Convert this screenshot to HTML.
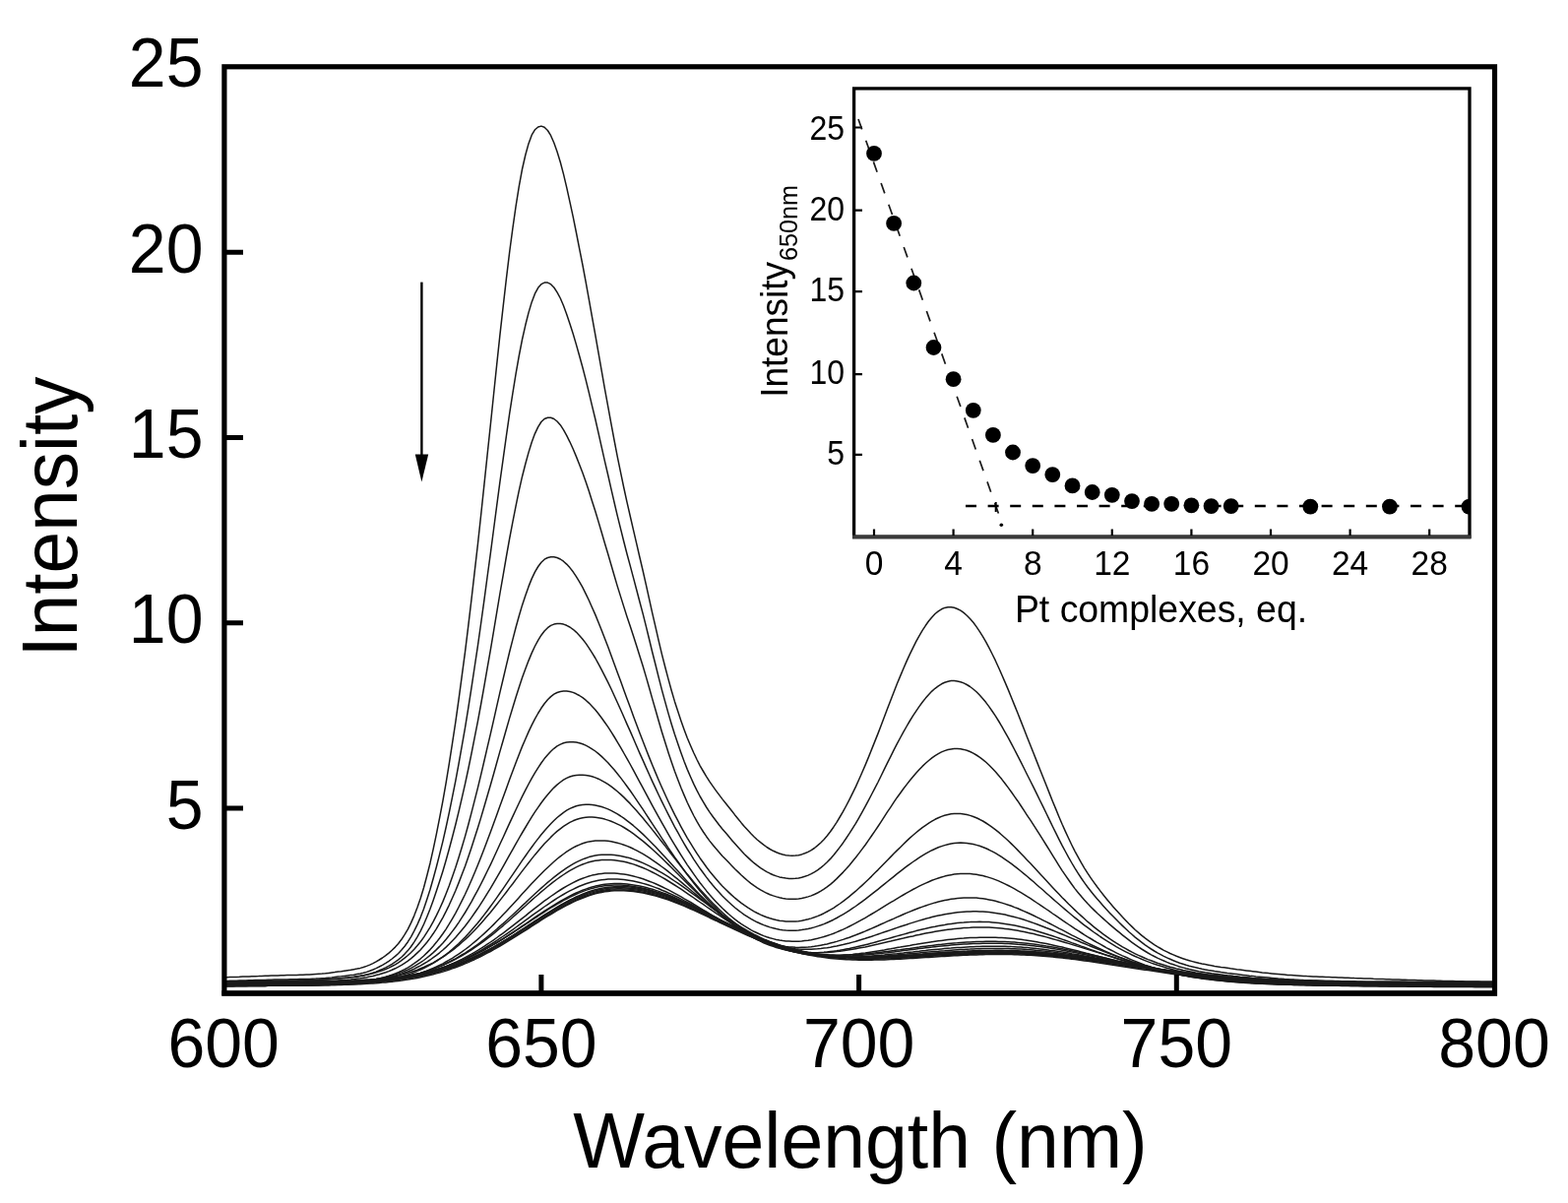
<!DOCTYPE html>
<html><head><meta charset="utf-8"><title>Emission titration</title>
<style>
html,body{margin:0;padding:0;background:#fff;}
body{width:1593px;height:1222px;overflow:hidden;}
svg{display:block;}
text{font-family:"Liberation Sans", Arial, sans-serif;fill:#000;}
</style></head><body>
<svg width="1593" height="1222" viewBox="0 0 1593 1222">
<rect x="0" y="0" width="1593" height="1222" fill="#fff"/>

<defs><clipPath id="mclip"><rect x="229" y="70" width="1288" height="937"/></clipPath>
<clipPath id="iclip"><rect x="869" y="91" width="623" height="453"/></clipPath></defs>
<g clip-path="url(#mclip)" fill="none" stroke="#1a1a1a" stroke-width="1.5" stroke-linejoin="round">
<polyline points="227.2,992.8 230.4,992.7 233.7,992.6 236.9,992.5 240.1,992.4 243.3,992.3 246.6,992.1 249.8,992.0 253.0,991.9 256.2,991.8 259.5,991.7 262.7,991.6 265.9,991.4 269.2,991.3 272.4,991.2 275.6,991.1 278.8,991.0 282.1,990.9 285.3,990.8 288.5,990.7 291.7,990.6 295.0,990.5 298.2,990.5 301.4,990.4 304.6,990.3 307.9,990.2 311.1,990.0 314.3,989.9 317.6,989.7 320.8,989.5 324.0,989.3 327.2,989.1 330.5,988.8 333.7,988.4 336.9,988.0 340.1,987.6 343.4,987.1 346.6,986.7 349.8,986.2 353.1,985.7 356.3,985.3 359.5,984.7 362.7,984.1 366.0,983.4 369.2,982.5 372.4,981.4 375.6,980.1 378.9,978.6 382.1,976.9 385.3,975.0 388.5,973.0 391.8,970.6 395.0,968.1 398.2,965.3 401.5,962.1 404.7,958.5 407.9,954.3 411.1,949.4 414.4,943.8 417.6,937.4 420.8,930.1 424.0,921.8 427.3,912.3 430.5,901.7 433.7,889.8 437.0,876.7 440.2,862.4 443.4,847.2 446.6,830.9 449.9,813.7 453.1,795.3 456.3,775.9 459.5,755.3 462.8,733.7 466.0,710.9 469.2,687.1 472.5,662.3 475.7,636.4 478.9,609.5 482.1,581.7 485.4,553.0 488.6,523.5 491.8,493.4 495.0,462.8 498.3,431.9 501.5,401.0 504.7,370.3 507.9,340.3 511.2,311.1 514.4,283.1 517.6,256.6 520.9,231.9 524.1,209.4 527.3,189.4 530.5,172.0 533.8,157.5 537.0,145.9 540.2,137.2 543.4,131.8 546.7,129.0 549.9,128.1 553.1,129.3 556.4,132.5 559.6,137.7 562.8,145.0 566.0,154.0 569.3,164.7 572.5,176.9 575.7,190.4 578.9,204.9 582.2,220.2 585.4,236.0 588.6,252.3 591.9,269.0 595.1,286.2 598.3,303.9 601.5,321.9 604.8,340.1 608.0,358.4 611.2,376.7 614.4,394.9 617.7,412.8 620.9,430.3 624.1,447.5 627.3,464.1 630.6,480.1 633.8,495.5 637.0,510.2 640.3,524.5 643.5,538.4 646.7,552.2 649.9,566.0 653.2,580.0 656.4,594.2 659.6,608.7 662.8,623.1 666.1,637.4 669.3,651.4 672.5,664.9 675.8,677.7 679.0,689.9 682.2,701.5 685.4,712.4 688.7,722.6 691.9,732.2 695.1,741.2 698.3,749.7 701.6,757.5 704.8,764.8 708.0,771.5 711.2,777.8 714.5,783.5 717.7,788.9 720.9,793.9 724.2,798.6 727.4,803.1 730.6,807.4 733.8,811.6 737.1,815.7 740.3,819.7 743.5,823.8 746.7,827.9 750.0,831.9 753.2,835.9 756.4,839.7 759.7,843.3 762.9,846.8 766.1,850.0 769.3,853.0 772.6,855.7 775.8,858.2 779.0,860.5 782.2,862.5 785.5,864.3 788.7,865.8 791.9,867.0 795.2,868.0 798.4,868.7 801.6,869.1 804.8,869.3 808.1,869.1 811.3,868.7 814.5,867.9 817.7,866.8 821.0,865.4 824.2,863.6 827.4,861.5 830.6,858.9 833.9,856.0 837.1,852.7 840.3,849.0 843.6,844.8 846.8,840.2 850.0,835.3 853.2,830.0 856.5,824.4 859.7,818.5 862.9,812.3 866.1,805.9 869.4,799.1 872.6,792.0 875.8,784.7 879.1,777.1 882.3,769.4 885.5,761.4 888.7,753.4 892.0,745.1 895.2,736.8 898.4,728.3 901.6,719.7 904.9,711.2 908.1,702.9 911.3,694.8 914.6,686.9 917.8,679.3 921.0,671.9 924.2,664.9 927.5,658.1 930.7,651.7 933.9,645.8 937.1,640.3 940.4,635.3 943.6,630.8 946.8,626.9 950.0,623.5 953.3,620.8 956.5,618.8 959.7,617.4 963.0,616.7 966.2,616.7 969.4,617.3 972.6,618.5 975.9,620.1 979.1,622.4 982.3,625.2 985.5,628.5 988.8,632.3 992.0,636.6 995.2,641.4 998.5,646.6 1001.7,652.2 1004.9,658.2 1008.1,664.5 1011.4,671.2 1014.6,678.2 1017.8,685.5 1021.0,692.9 1024.3,700.6 1027.5,708.5 1030.7,716.4 1034.0,724.5 1037.2,732.6 1040.4,740.8 1043.6,749.0 1046.9,757.2 1050.1,765.3 1053.3,773.4 1056.5,781.5 1059.8,789.7 1063.0,797.8 1066.2,805.9 1069.4,814.0 1072.7,821.9 1075.9,829.7 1079.1,837.3 1082.4,844.6 1085.6,851.5 1088.8,858.2 1092.0,864.6 1095.3,870.6 1098.5,876.4 1101.7,881.8 1104.9,886.9 1108.2,891.8 1111.4,896.4 1114.6,900.8 1117.9,905.1 1121.1,909.2 1124.3,913.2 1127.5,917.1 1130.8,920.9 1134.0,924.5 1137.2,928.1 1140.4,931.6 1143.7,935.0 1146.9,938.3 1150.1,941.4 1153.3,944.5 1156.6,947.4 1159.8,950.1 1163.0,952.7 1166.3,955.1 1169.5,957.4 1172.7,959.6 1175.9,961.6 1179.2,963.5 1182.4,965.3 1185.6,966.9 1188.8,968.5 1192.1,969.9 1195.3,971.3 1198.5,972.5 1201.8,973.7 1205.0,974.8 1208.2,975.7 1211.4,976.6 1214.7,977.5 1217.9,978.3 1221.1,979.0 1224.3,979.6 1227.6,980.2 1230.8,980.8 1234.0,981.4 1237.3,981.9 1240.5,982.4 1243.7,982.8 1246.9,983.3 1250.2,983.8 1253.4,984.2 1256.6,984.7 1259.8,985.1 1263.1,985.5 1266.3,985.9 1269.5,986.3 1272.7,986.7 1276.0,987.1 1279.2,987.5 1282.4,987.9 1285.7,988.2 1288.9,988.6 1292.1,988.9 1295.3,989.2 1298.6,989.5 1301.8,989.8 1305.0,990.1 1308.2,990.4 1311.5,990.6 1314.7,990.8 1317.9,991.0 1321.2,991.2 1324.4,991.4 1327.6,991.6 1330.8,991.7 1334.1,991.9 1337.3,992.0 1340.5,992.2 1343.7,992.3 1347.0,992.5 1350.2,992.6 1353.4,992.7 1356.7,992.8 1359.9,993.0 1363.1,993.1 1366.3,993.2 1369.6,993.3 1372.8,993.4 1376.0,993.6 1379.2,993.7 1382.5,993.8 1385.7,993.9 1388.9,994.0 1392.1,994.1 1395.4,994.3 1398.6,994.4 1401.8,994.5 1405.1,994.6 1408.3,994.7 1411.5,994.8 1414.7,994.9 1418.0,995.0 1421.2,995.1 1424.4,995.2 1427.6,995.3 1430.9,995.4 1434.1,995.5 1437.3,995.6 1440.6,995.7 1443.8,995.8 1447.0,995.9 1450.2,996.0 1453.5,996.0 1456.7,996.1 1459.9,996.2 1463.1,996.3 1466.4,996.4 1469.6,996.4 1472.8,996.5 1476.0,996.6 1479.3,996.7 1482.5,996.7 1485.7,996.8 1489.0,996.9 1492.2,996.9 1495.4,997.0 1498.6,997.0 1501.9,997.1 1505.1,997.2 1508.3,997.2 1511.5,997.3 1514.8,997.3 1518.0,997.4"/>
<polyline points="227.2,996.5 230.4,996.4 233.7,996.3 236.9,996.3 240.1,996.2 243.3,996.1 246.6,996.0 249.8,995.9 253.0,995.8 256.2,995.7 259.5,995.6 262.7,995.5 265.9,995.4 269.2,995.4 272.4,995.3 275.6,995.2 278.8,995.1 282.1,995.1 285.3,995.0 288.5,994.9 291.7,994.9 295.0,994.8 298.2,994.7 301.4,994.7 304.6,994.6 307.9,994.5 311.1,994.5 314.3,994.4 317.6,994.2 320.8,994.1 324.0,993.9 327.2,993.7 330.5,993.5 333.7,993.2 336.9,992.9 340.1,992.5 343.4,992.1 346.6,991.8 349.8,991.4 353.1,991.0 356.3,990.6 359.5,990.2 362.7,989.6 366.0,989.0 369.2,988.3 372.4,987.4 375.6,986.3 378.9,985.0 382.1,983.6 385.3,982.0 388.5,980.3 391.8,978.4 395.0,976.3 398.2,974.0 401.5,971.4 404.7,968.5 407.9,965.1 411.1,961.2 414.4,956.7 417.6,951.6 420.8,945.7 424.0,939.1 427.3,931.6 430.5,923.2 433.7,913.8 437.0,903.5 440.2,892.3 443.4,880.5 446.6,867.9 449.9,854.6 453.1,840.5 456.3,825.6 459.5,809.9 462.8,793.4 466.0,776.1 469.2,758.1 472.5,739.3 475.7,719.6 478.9,699.2 482.1,678.0 485.4,656.1 488.6,633.5 491.8,610.3 495.0,586.5 498.3,562.4 501.5,538.0 504.7,513.7 507.9,489.6 511.2,465.9 514.4,442.8 517.6,420.6 520.9,399.4 524.1,379.7 527.3,361.5 530.5,345.0 533.8,330.3 537.0,317.6 540.2,306.9 543.4,298.4 546.7,292.3 549.9,288.7 553.1,287.1 556.4,287.1 559.6,288.7 562.8,292.0 566.0,296.8 569.3,303.0 572.5,310.5 575.7,319.2 578.9,328.8 582.2,339.1 585.4,349.9 588.6,361.3 591.9,373.2 595.1,385.6 598.3,398.6 601.5,412.1 604.8,425.8 608.0,439.9 611.2,454.1 614.4,468.3 617.7,482.5 620.9,496.6 624.1,510.5 627.3,524.1 630.6,537.4 633.8,550.2 637.0,562.7 640.3,574.9 643.5,586.9 646.7,599.0 649.9,611.2 653.2,623.6 656.4,636.4 659.6,649.5 662.8,662.7 666.1,675.7 669.3,688.6 672.5,701.1 675.8,713.1 679.0,724.6 682.2,735.5 685.4,745.8 688.7,755.6 691.9,764.8 695.1,773.5 698.3,781.6 701.6,789.2 704.8,796.4 708.0,802.9 711.2,809.0 714.5,814.7 717.7,820.0 720.9,824.9 724.2,829.5 727.4,833.8 730.6,838.0 733.8,842.0 737.1,845.8 740.3,849.6 743.5,853.4 746.7,857.1 750.0,860.8 753.2,864.3 756.4,867.7 759.7,870.9 762.9,873.9 766.1,876.7 769.3,879.2 772.6,881.6 775.8,883.7 779.0,885.6 782.2,887.2 785.5,888.7 788.7,889.9 791.9,890.9 795.2,891.6 798.4,892.1 801.6,892.4 804.8,892.5 808.1,892.3 811.3,891.9 814.5,891.2 817.7,890.3 821.0,889.1 824.2,887.6 827.4,885.8 830.6,883.8 833.9,881.4 837.1,878.7 840.3,875.7 843.6,872.4 846.8,868.7 850.0,864.8 853.2,860.6 856.5,856.2 859.7,851.5 862.9,846.7 866.1,841.6 869.4,836.3 872.6,830.8 875.8,825.1 879.1,819.2 882.3,813.2 885.5,807.0 888.7,800.8 892.0,794.5 895.2,788.0 898.4,781.4 901.6,774.8 904.9,768.3 908.1,761.8 911.3,755.6 914.6,749.5 917.8,743.6 921.0,738.0 924.2,732.5 927.5,727.2 930.7,722.3 933.9,717.6 937.1,713.2 940.4,709.1 943.6,705.4 946.8,702.1 950.0,699.3 953.3,696.8 956.5,694.8 959.7,693.3 963.0,692.2 966.2,691.6 969.4,691.5 972.6,691.9 975.9,692.7 979.1,693.9 982.3,695.5 985.5,697.5 988.8,700.0 992.0,702.8 995.2,706.1 998.5,709.7 1001.7,713.6 1004.9,717.9 1008.1,722.5 1011.4,727.4 1014.6,732.5 1017.8,737.9 1021.0,743.6 1024.3,749.4 1027.5,755.4 1030.7,761.5 1034.0,767.8 1037.2,774.1 1040.4,780.5 1043.6,787.0 1046.9,793.5 1050.1,799.9 1053.3,806.4 1056.5,813.0 1059.8,819.6 1063.0,826.3 1066.2,832.9 1069.4,839.5 1072.7,846.1 1075.9,852.6 1079.1,858.9 1082.4,865.0 1085.6,870.9 1088.8,876.5 1092.0,881.9 1095.3,887.1 1098.5,892.0 1101.7,896.6 1104.9,901.0 1108.2,905.2 1111.4,909.2 1114.6,913.1 1117.9,916.8 1121.1,920.4 1124.3,924.0 1127.5,927.4 1130.8,930.8 1134.0,934.1 1137.2,937.3 1140.4,940.4 1143.7,943.5 1146.9,946.5 1150.1,949.3 1153.3,952.1 1156.6,954.7 1159.8,957.2 1163.0,959.6 1166.3,961.9 1169.5,964.0 1172.7,966.0 1175.9,967.9 1179.2,969.6 1182.4,971.3 1185.6,972.9 1188.8,974.3 1192.1,975.7 1195.3,977.0 1198.5,978.2 1201.8,979.2 1205.0,980.3 1208.2,981.2 1211.4,982.0 1214.7,982.8 1217.9,983.6 1221.1,984.3 1224.3,984.9 1227.6,985.5 1230.8,986.0 1234.0,986.6 1237.3,987.0 1240.5,987.5 1243.7,987.9 1246.9,988.4 1250.2,988.8 1253.4,989.2 1256.6,989.6 1259.8,990.0 1263.1,990.4 1266.3,990.8 1269.5,991.2 1272.7,991.5 1276.0,991.9 1279.2,992.2 1282.4,992.5 1285.7,992.8 1288.9,993.1 1292.1,993.4 1295.3,993.7 1298.6,994.0 1301.8,994.2 1305.0,994.5 1308.2,994.7 1311.5,994.9 1314.7,995.1 1317.9,995.2 1321.2,995.4 1324.4,995.6 1327.6,995.7 1330.8,995.8 1334.1,996.0 1337.3,996.1 1340.5,996.2 1343.7,996.3 1347.0,996.4 1350.2,996.5 1353.4,996.6 1356.7,996.7 1359.9,996.8 1363.1,996.9 1366.3,997.0 1369.6,997.1 1372.8,997.2 1376.0,997.3 1379.2,997.4 1382.5,997.5 1385.7,997.6 1388.9,997.7 1392.1,997.8 1395.4,997.9 1398.6,998.0 1401.8,998.1 1405.1,998.2 1408.3,998.2 1411.5,998.3 1414.7,998.4 1418.0,998.5 1421.2,998.6 1424.4,998.7 1427.6,998.8 1430.9,998.8 1434.1,998.9 1437.3,999.0 1440.6,999.1 1443.8,999.1 1447.0,999.2 1450.2,999.3 1453.5,999.4 1456.7,999.4 1459.9,999.5 1463.1,999.6 1466.4,999.6 1469.6,999.7 1472.8,999.8 1476.0,999.8 1479.3,999.9 1482.5,999.9 1485.7,1000.0 1489.0,1000.0 1492.2,1000.1 1495.4,1000.1 1498.6,1000.2 1501.9,1000.2 1505.1,1000.3 1508.3,1000.3 1511.5,1000.3 1514.8,1000.4 1518.0,1000.4"/>
<polyline points="227.2,997.2 230.4,997.1 233.7,997.0 236.9,997.0 240.1,996.9 243.3,996.8 246.6,996.7 249.8,996.7 253.0,996.6 256.2,996.5 259.5,996.5 262.7,996.4 265.9,996.4 269.2,996.3 272.4,996.2 275.6,996.2 278.8,996.1 282.1,996.1 285.3,996.0 288.5,996.0 291.7,996.0 295.0,995.9 298.2,995.9 301.4,995.9 304.6,995.8 307.9,995.8 311.1,995.7 314.3,995.7 317.6,995.6 320.8,995.5 324.0,995.4 327.2,995.2 330.5,995.0 333.7,994.8 336.9,994.6 340.1,994.3 343.4,994.0 346.6,993.7 349.8,993.4 353.1,993.1 356.3,992.7 359.5,992.4 362.7,992.0 366.0,991.5 369.2,990.9 372.4,990.1 375.6,989.3 378.9,988.2 382.1,987.1 385.3,985.8 388.5,984.4 391.8,982.8 395.0,981.1 398.2,979.3 401.5,977.2 404.7,974.9 407.9,972.2 411.1,969.1 414.4,965.6 417.6,961.5 420.8,956.8 424.0,951.6 427.3,945.6 430.5,939.0 433.7,931.5 437.0,923.3 440.2,914.5 443.4,905.1 446.6,895.3 449.9,884.9 453.1,874.0 456.3,862.5 459.5,850.5 462.8,837.8 466.0,824.6 469.2,810.8 472.5,796.4 475.7,781.5 478.9,765.9 482.1,749.7 485.4,732.9 488.6,715.5 491.8,697.6 495.0,679.1 498.3,660.3 501.5,641.3 504.7,622.1 507.9,603.0 511.2,584.1 514.4,565.5 517.6,547.5 520.9,530.2 524.1,513.8 527.3,498.4 530.5,484.2 533.8,471.2 537.0,459.6 540.2,449.3 543.4,440.6 546.7,433.6 549.9,428.5 553.1,425.5 556.4,424.2 559.6,424.2 562.8,425.5 566.0,428.0 569.3,431.7 572.5,436.6 575.7,442.3 578.9,448.8 582.2,456.0 585.4,463.6 588.6,471.7 591.9,480.2 595.1,489.3 598.3,498.8 601.5,508.9 604.8,519.2 608.0,529.9 611.2,540.8 614.4,551.8 617.7,562.8 620.9,573.8 624.1,584.8 627.3,595.6 630.6,606.1 633.8,616.4 637.0,626.4 640.3,636.3 643.5,646.1 646.7,656.1 649.9,666.2 653.2,676.7 656.4,687.6 659.6,698.8 662.8,710.1 666.1,721.5 669.3,732.7 672.5,743.7 675.8,754.3 679.0,764.4 682.2,774.0 685.4,783.2 688.7,791.9 691.9,800.2 695.1,807.9 698.3,815.2 701.6,822.1 704.8,828.5 708.0,834.4 711.2,839.9 714.5,845.0 717.7,849.7 720.9,854.1 724.2,858.2 727.4,862.1 730.6,865.8 733.8,869.4 737.1,872.8 740.3,876.1 743.5,879.4 746.7,882.7 750.0,885.9 753.2,889.0 756.4,891.9 759.7,894.7 762.9,897.3 766.1,899.7 769.3,901.9 772.6,903.9 775.8,905.7 779.0,907.3 782.2,908.7 785.5,909.9 788.7,910.9 791.9,911.8 795.2,912.4 798.4,912.9 801.6,913.2 804.8,913.3 808.1,913.2 811.3,912.9 814.5,912.5 817.7,911.8 821.0,910.9 824.2,909.9 827.4,908.5 830.6,907.0 833.9,905.2 837.1,903.2 840.3,900.9 843.6,898.4 846.8,895.6 850.0,892.6 853.2,889.4 856.5,886.1 859.7,882.6 862.9,878.9 866.1,875.0 869.4,871.0 872.6,866.9 875.8,862.6 879.1,858.2 882.3,853.6 885.5,849.0 888.7,844.3 892.0,839.5 895.2,834.7 898.4,829.7 901.6,824.7 904.9,819.8 908.1,814.9 911.3,810.2 914.6,805.7 917.8,801.3 921.0,797.1 924.2,793.0 927.5,789.1 930.7,785.3 933.9,781.8 937.1,778.4 940.4,775.3 943.6,772.5 946.8,769.9 950.0,767.6 953.3,765.6 956.5,763.9 959.7,762.6 963.0,761.5 966.2,760.9 969.4,760.5 972.6,760.5 975.9,760.8 979.1,761.4 982.3,762.3 985.5,763.5 988.8,765.1 992.0,767.0 995.2,769.1 998.5,771.6 1001.7,774.3 1004.9,777.3 1008.1,780.5 1011.4,784.0 1014.6,787.7 1017.8,791.6 1021.0,795.8 1024.3,800.1 1027.5,804.5 1030.7,809.1 1034.0,813.7 1037.2,818.5 1040.4,823.4 1043.6,828.3 1046.9,833.2 1050.1,838.1 1053.3,843.1 1056.5,848.2 1059.8,853.3 1063.0,858.5 1066.2,863.7 1069.4,868.9 1072.7,874.1 1075.9,879.3 1079.1,884.3 1082.4,889.2 1085.6,893.8 1088.8,898.3 1092.0,902.6 1095.3,906.7 1098.5,910.6 1101.7,914.3 1104.9,917.8 1108.2,921.2 1111.4,924.4 1114.6,927.5 1117.9,930.5 1121.1,933.4 1124.3,936.3 1127.5,939.1 1130.8,941.9 1134.0,944.6 1137.2,947.2 1140.4,949.8 1143.7,952.4 1146.9,954.9 1150.1,957.3 1153.3,959.6 1156.6,961.9 1159.8,964.0 1163.0,966.0 1166.3,968.0 1169.5,969.8 1172.7,971.5 1175.9,973.1 1179.2,974.6 1182.4,976.0 1185.6,977.4 1188.8,978.7 1192.1,979.8 1195.3,980.9 1198.5,982.0 1201.8,982.9 1205.0,983.8 1208.2,984.6 1211.4,985.3 1214.7,986.0 1217.9,986.7 1221.1,987.2 1224.3,987.8 1227.6,988.3 1230.8,988.8 1234.0,989.2 1237.3,989.6 1240.5,990.0 1243.7,990.4 1246.9,990.8 1250.2,991.1 1253.4,991.5 1256.6,991.8 1259.8,992.2 1263.1,992.5 1266.3,992.8 1269.5,993.1 1272.7,993.5 1276.0,993.8 1279.2,994.0 1282.4,994.3 1285.7,994.6 1288.9,994.8 1292.1,995.1 1295.3,995.3 1298.6,995.5 1301.8,995.7 1305.0,995.9 1308.2,996.1 1311.5,996.3 1314.7,996.4 1317.9,996.6 1321.2,996.7 1324.4,996.8 1327.6,996.9 1330.8,997.0 1334.1,997.2 1337.3,997.2 1340.5,997.3 1343.7,997.4 1347.0,997.5 1350.2,997.6 1353.4,997.7 1356.7,997.7 1359.9,997.8 1363.1,997.9 1366.3,998.0 1369.6,998.0 1372.8,998.1 1376.0,998.2 1379.2,998.3 1382.5,998.3 1385.7,998.4 1388.9,998.5 1392.1,998.6 1395.4,998.6 1398.6,998.7 1401.8,998.8 1405.1,998.8 1408.3,998.9 1411.5,999.0 1414.7,999.0 1418.0,999.1 1421.2,999.2 1424.4,999.2 1427.6,999.3 1430.9,999.4 1434.1,999.4 1437.3,999.5 1440.6,999.5 1443.8,999.6 1447.0,999.7 1450.2,999.7 1453.5,999.8 1456.7,999.8 1459.9,999.9 1463.1,999.9 1466.4,1000.0 1469.6,1000.0 1472.8,1000.1 1476.0,1000.1 1479.3,1000.2 1482.5,1000.2 1485.7,1000.3 1489.0,1000.3 1492.2,1000.3 1495.4,1000.4 1498.6,1000.4 1501.9,1000.4 1505.1,1000.5 1508.3,1000.5 1511.5,1000.5 1514.8,1000.6 1518.0,1000.6"/>
<polyline points="227.2,998.2 230.4,998.2 233.7,998.1 236.9,998.0 240.1,998.0 243.3,997.9 246.6,997.8 249.8,997.8 253.0,997.7 256.2,997.6 259.5,997.5 262.7,997.5 265.9,997.4 269.2,997.3 272.4,997.2 275.6,997.1 278.8,997.0 282.1,996.9 285.3,996.8 288.5,996.7 291.7,996.6 295.0,996.5 298.2,996.4 301.4,996.3 304.6,996.1 307.9,996.0 311.1,995.9 314.3,995.7 317.6,995.6 320.8,995.4 324.0,995.3 327.2,995.1 330.5,994.9 333.7,994.7 336.9,994.5 340.1,994.2 343.4,994.0 346.6,993.7 349.8,993.4 353.1,993.1 356.3,992.7 359.5,992.3 362.7,991.8 366.0,991.3 369.2,990.8 372.4,990.2 375.6,989.5 378.9,988.7 382.1,987.8 385.3,986.8 388.5,985.7 391.8,984.5 395.0,983.1 398.2,981.5 401.5,979.8 404.7,977.8 407.9,975.7 411.1,973.2 414.4,970.5 417.6,967.5 420.8,964.2 424.0,960.5 427.3,956.5 430.5,952.1 433.7,947.2 437.0,941.9 440.2,936.2 443.4,929.9 446.6,923.2 449.9,915.9 453.1,908.0 456.3,899.7 459.5,890.8 462.8,881.3 466.0,871.3 469.2,860.7 472.5,849.6 475.7,838.0 478.9,825.9 482.1,813.4 485.4,800.4 488.6,787.1 491.8,773.5 495.0,759.7 498.3,745.7 501.5,731.6 504.7,717.4 507.9,703.4 511.2,689.5 514.4,675.8 517.6,662.5 520.9,649.6 524.1,637.3 527.3,625.7 530.5,614.9 533.8,604.9 537.0,595.9 540.2,587.9 543.4,581.1 546.7,575.5 549.9,571.2 553.1,568.2 556.4,566.5 559.6,565.8 562.8,565.8 566.0,566.5 569.3,568.0 572.5,570.2 575.7,573.1 578.9,576.6 582.2,580.8 585.4,585.6 588.6,590.9 591.9,596.7 595.1,603.1 598.3,609.8 601.5,617.0 604.8,624.4 608.0,632.2 611.2,640.3 614.4,648.6 617.7,657.1 620.9,665.7 624.1,674.4 627.3,683.2 630.6,692.1 633.8,700.9 637.0,709.8 640.3,718.6 643.5,727.4 646.7,736.0 649.9,744.6 653.2,753.0 656.4,761.3 659.6,769.4 662.8,777.3 666.1,785.1 669.3,792.7 672.5,800.0 675.8,807.2 679.0,814.2 682.2,820.9 685.4,827.4 688.7,833.7 691.9,839.8 695.1,845.6 698.3,851.3 701.6,856.7 704.8,861.9 708.0,866.9 711.2,871.7 714.5,876.3 717.7,880.8 720.9,885.0 724.2,889.0 727.4,892.8 730.6,896.5 733.8,900.0 737.1,903.3 740.3,906.4 743.5,909.4 746.7,912.2 750.0,914.9 753.2,917.4 756.4,919.7 759.7,921.9 762.9,923.9 766.1,925.8 769.3,927.5 772.6,929.1 775.8,930.5 779.0,931.7 782.2,932.8 785.5,933.7 788.7,934.5 791.9,935.2 795.2,935.6 798.4,936.0 801.6,936.1 804.8,936.1 808.1,936.0 811.3,935.7 814.5,935.2 817.7,934.6 821.0,933.8 824.2,932.9 827.4,931.8 830.6,930.6 833.9,929.2 837.1,927.7 840.3,926.0 843.6,924.2 846.8,922.3 850.0,920.2 853.2,918.0 856.5,915.6 859.7,913.2 862.9,910.6 866.1,907.9 869.4,905.2 872.6,902.3 875.8,899.4 879.1,896.3 882.3,893.2 885.5,890.1 888.7,886.8 892.0,883.6 895.2,880.3 898.4,877.0 901.6,873.7 904.9,870.4 908.1,867.1 911.3,863.9 914.6,860.7 917.8,857.5 921.0,854.4 924.2,851.4 927.5,848.5 930.7,845.8 933.9,843.1 937.1,840.6 940.4,838.3 943.6,836.1 946.8,834.1 950.0,832.3 953.3,830.8 956.5,829.4 959.7,828.3 963.0,827.5 966.2,826.8 969.4,826.5 972.6,826.4 975.9,826.5 979.1,826.9 982.3,827.5 985.5,828.4 988.8,829.5 992.0,830.8 995.2,832.3 998.5,834.0 1001.7,836.0 1004.9,838.1 1008.1,840.4 1011.4,842.8 1014.6,845.4 1017.8,848.2 1021.0,851.0 1024.3,854.0 1027.5,857.1 1030.7,860.3 1034.0,863.6 1037.2,866.9 1040.4,870.3 1043.6,873.7 1046.9,877.1 1050.1,880.6 1053.3,884.1 1056.5,887.6 1059.8,891.1 1063.0,894.6 1066.2,898.1 1069.4,901.5 1072.7,904.9 1075.9,908.3 1079.1,911.7 1082.4,914.9 1085.6,918.2 1088.8,921.3 1092.0,924.4 1095.3,927.5 1098.5,930.4 1101.7,933.3 1104.9,936.2 1108.2,938.9 1111.4,941.6 1114.6,944.2 1117.9,946.7 1121.1,949.1 1124.3,951.4 1127.5,953.7 1130.8,955.8 1134.0,957.9 1137.2,959.9 1140.4,961.9 1143.7,963.7 1146.9,965.5 1150.1,967.2 1153.3,968.8 1156.6,970.4 1159.8,971.8 1163.0,973.2 1166.3,974.6 1169.5,975.8 1172.7,977.0 1175.9,978.2 1179.2,979.3 1182.4,980.3 1185.6,981.3 1188.8,982.2 1192.1,983.0 1195.3,983.9 1198.5,984.6 1201.8,985.4 1205.0,986.1 1208.2,986.7 1211.4,987.3 1214.7,987.9 1217.9,988.4 1221.1,988.9 1224.3,989.4 1227.6,989.9 1230.8,990.3 1234.0,990.7 1237.3,991.1 1240.5,991.4 1243.7,991.8 1246.9,992.1 1250.2,992.4 1253.4,992.7 1256.6,992.9 1259.8,993.2 1263.1,993.4 1266.3,993.6 1269.5,993.9 1272.7,994.1 1276.0,994.3 1279.2,994.4 1282.4,994.6 1285.7,994.8 1288.9,994.9 1292.1,995.1 1295.3,995.2 1298.6,995.4 1301.8,995.5 1305.0,995.6 1308.2,995.7 1311.5,995.8 1314.7,996.0 1317.9,996.1 1321.2,996.2 1324.4,996.3 1327.6,996.4 1330.8,996.5 1334.1,996.5 1337.3,996.6 1340.5,996.7 1343.7,996.8 1347.0,996.9 1350.2,997.0 1353.4,997.0 1356.7,997.1 1359.9,997.2 1363.1,997.2 1366.3,997.3 1369.6,997.4 1372.8,997.4 1376.0,997.5 1379.2,997.6 1382.5,997.6 1385.7,997.7 1388.9,997.7 1392.1,997.8 1395.4,997.9 1398.6,997.9 1401.8,998.0 1405.1,998.0 1408.3,998.1 1411.5,998.1 1414.7,998.2 1418.0,998.2 1421.2,998.3 1424.4,998.3 1427.6,998.4 1430.9,998.4 1434.1,998.4 1437.3,998.5 1440.6,998.5 1443.8,998.6 1447.0,998.6 1450.2,998.6 1453.5,998.7 1456.7,998.7 1459.9,998.8 1463.1,998.8 1466.4,998.8 1469.6,998.9 1472.8,998.9 1476.0,998.9 1479.3,999.0 1482.5,999.0 1485.7,999.0 1489.0,999.1 1492.2,999.1 1495.4,999.1 1498.6,999.2 1501.9,999.2 1505.1,999.2 1508.3,999.3 1511.5,999.3 1514.8,999.3 1518.0,999.3"/>
<polyline points="227.2,999.5 230.4,999.5 233.7,999.4 236.9,999.3 240.1,999.3 243.3,999.2 246.6,999.2 249.8,999.1 253.0,999.1 256.2,999.0 259.5,998.9 262.7,998.9 265.9,998.8 269.2,998.7 272.4,998.7 275.6,998.6 278.8,998.5 282.1,998.4 285.3,998.4 288.5,998.3 291.7,998.2 295.0,998.1 298.2,998.0 301.4,997.9 304.6,997.8 307.9,997.7 311.1,997.6 314.3,997.5 317.6,997.3 320.8,997.2 324.0,997.1 327.2,996.9 330.5,996.8 333.7,996.6 336.9,996.4 340.1,996.2 343.4,996.0 346.6,995.7 349.8,995.5 353.1,995.2 356.3,994.9 359.5,994.5 362.7,994.1 366.0,993.7 369.2,993.2 372.4,992.7 375.6,992.1 378.9,991.4 382.1,990.6 385.3,989.8 388.5,988.8 391.8,987.8 395.0,986.6 398.2,985.3 401.5,983.8 404.7,982.2 407.9,980.4 411.1,978.3 414.4,976.1 417.6,973.6 420.8,970.9 424.0,967.9 427.3,964.7 430.5,961.1 433.7,957.2 437.0,952.9 440.2,948.3 443.4,943.3 446.6,937.9 449.9,932.1 453.1,925.9 456.3,919.3 459.5,912.3 462.8,904.8 466.0,896.9 469.2,888.6 472.5,879.9 475.7,870.7 478.9,861.2 482.1,851.3 485.4,841.1 488.6,830.6 491.8,819.8 495.0,808.8 498.3,797.5 501.5,786.2 504.7,774.8 507.9,763.4 511.2,752.0 514.4,740.7 517.6,729.6 520.9,718.8 524.1,708.3 527.3,698.2 530.5,688.6 533.8,679.6 537.0,671.1 540.2,663.4 543.4,656.5 546.7,650.4 549.9,645.2 553.1,641.0 556.4,637.7 559.6,635.4 562.8,634.1 566.0,633.6 569.3,633.6 572.5,634.1 575.7,635.3 578.9,637.0 582.2,639.3 585.4,642.1 588.6,645.4 591.9,649.2 595.1,653.4 598.3,658.1 601.5,663.1 604.8,668.5 608.0,674.3 611.2,680.3 614.4,686.6 617.7,693.1 620.9,699.8 624.1,706.7 627.3,713.8 630.6,721.0 633.8,728.2 637.0,735.6 640.3,742.9 643.5,750.3 646.7,757.7 649.9,765.1 653.2,772.4 656.4,779.6 659.6,786.8 662.8,793.9 666.1,800.9 669.3,807.7 672.5,814.4 675.8,821.0 679.0,827.4 682.2,833.7 685.4,839.8 688.7,845.7 691.9,851.5 695.1,857.1 698.3,862.5 701.6,867.7 704.8,872.8 708.0,877.6 711.2,882.3 714.5,886.8 717.7,891.1 720.9,895.2 724.2,899.2 727.4,902.9 730.6,906.5 733.8,910.0 737.1,913.2 740.3,916.3 743.5,919.2 746.7,922.0 750.0,924.6 753.2,927.0 756.4,929.3 759.7,931.4 762.9,933.3 766.1,935.1 769.3,936.8 772.6,938.3 775.8,939.6 779.0,940.8 782.2,941.9 785.5,942.8 788.7,943.6 791.9,944.2 795.2,944.7 798.4,945.0 801.6,945.2 804.8,945.3 808.1,945.2 811.3,945.0 814.5,944.6 817.7,944.1 821.0,943.5 824.2,942.8 827.4,941.9 830.6,940.9 833.9,939.8 837.1,938.6 840.3,937.2 843.6,935.7 846.8,934.2 850.0,932.5 853.2,930.7 856.5,928.8 859.7,926.9 862.9,924.8 866.1,922.7 869.4,920.5 872.6,918.2 875.8,915.8 879.1,913.4 882.3,910.9 885.5,908.4 888.7,905.9 892.0,903.3 895.2,900.7 898.4,898.1 901.6,895.5 904.9,892.9 908.1,890.3 911.3,887.7 914.6,885.2 917.8,882.7 921.0,880.2 924.2,877.8 927.5,875.5 930.7,873.3 933.9,871.1 937.1,869.1 940.4,867.2 943.6,865.4 946.8,863.7 950.0,862.2 953.3,860.8 956.5,859.6 959.7,858.6 963.0,857.7 966.2,857.0 969.4,856.5 972.6,856.2 975.9,856.1 979.1,856.2 982.3,856.5 985.5,856.9 988.8,857.5 992.0,858.4 995.2,859.3 998.5,860.5 1001.7,861.8 1004.9,863.3 1008.1,864.9 1011.4,866.7 1014.6,868.6 1017.8,870.6 1021.0,872.8 1024.3,875.1 1027.5,877.4 1030.7,879.8 1034.0,882.4 1037.2,885.0 1040.4,887.6 1043.6,890.3 1046.9,893.1 1050.1,895.8 1053.3,898.7 1056.5,901.5 1059.8,904.3 1063.0,907.2 1066.2,910.0 1069.4,912.9 1072.7,915.7 1075.9,918.5 1079.1,921.3 1082.4,924.1 1085.6,926.8 1088.8,929.5 1092.0,932.1 1095.3,934.7 1098.5,937.3 1101.7,939.8 1104.9,942.2 1108.2,944.6 1111.4,947.0 1114.6,949.2 1117.9,951.5 1121.1,953.6 1124.3,955.7 1127.5,957.7 1130.8,959.7 1134.0,961.6 1137.2,963.4 1140.4,965.1 1143.7,966.8 1146.9,968.4 1150.1,970.0 1153.3,971.5 1156.6,972.9 1159.8,974.3 1163.0,975.6 1166.3,976.9 1169.5,978.1 1172.7,979.2 1175.9,980.3 1179.2,981.3 1182.4,982.3 1185.6,983.3 1188.8,984.1 1192.1,985.0 1195.3,985.8 1198.5,986.5 1201.8,987.2 1205.0,987.9 1208.2,988.5 1211.4,989.1 1214.7,989.7 1217.9,990.3 1221.1,990.8 1224.3,991.2 1227.6,991.7 1230.8,992.1 1234.0,992.5 1237.3,992.9 1240.5,993.2 1243.7,993.5 1246.9,993.9 1250.2,994.2 1253.4,994.4 1256.6,994.7 1259.8,994.9 1263.1,995.2 1266.3,995.4 1269.5,995.6 1272.7,995.8 1276.0,996.0 1279.2,996.1 1282.4,996.3 1285.7,996.5 1288.9,996.6 1292.1,996.8 1295.3,996.9 1298.6,997.0 1301.8,997.1 1305.0,997.3 1308.2,997.4 1311.5,997.5 1314.7,997.6 1317.9,997.7 1321.2,997.8 1324.4,997.8 1327.6,997.9 1330.8,998.0 1334.1,998.1 1337.3,998.2 1340.5,998.2 1343.7,998.3 1347.0,998.4 1350.2,998.5 1353.4,998.5 1356.7,998.6 1359.9,998.6 1363.1,998.7 1366.3,998.8 1369.6,998.8 1372.8,998.9 1376.0,998.9 1379.2,999.0 1382.5,999.0 1385.7,999.1 1388.9,999.1 1392.1,999.2 1395.4,999.2 1398.6,999.3 1401.8,999.3 1405.1,999.4 1408.3,999.4 1411.5,999.4 1414.7,999.5 1418.0,999.5 1421.2,999.6 1424.4,999.6 1427.6,999.6 1430.9,999.7 1434.1,999.7 1437.3,999.7 1440.6,999.8 1443.8,999.8 1447.0,999.8 1450.2,999.9 1453.5,999.9 1456.7,999.9 1459.9,1000.0 1463.1,1000.0 1466.4,1000.0 1469.6,1000.1 1472.8,1000.1 1476.0,1000.1 1479.3,1000.1 1482.5,1000.2 1485.7,1000.2 1489.0,1000.2 1492.2,1000.3 1495.4,1000.3 1498.6,1000.3 1501.9,1000.3 1505.1,1000.4 1508.3,1000.4 1511.5,1000.4 1514.8,1000.4 1518.0,1000.4"/>
<polyline points="227.2,1002.0 230.4,1001.9 233.7,1001.9 236.9,1001.9 240.1,1001.8 243.3,1001.8 246.6,1001.7 249.8,1001.7 253.0,1001.6 256.2,1001.6 259.5,1001.5 262.7,1001.5 265.9,1001.4 269.2,1001.4 272.4,1001.3 275.6,1001.3 278.8,1001.2 282.1,1001.2 285.3,1001.1 288.5,1001.0 291.7,1001.0 295.0,1000.9 298.2,1000.8 301.4,1000.7 304.6,1000.7 307.9,1000.6 311.1,1000.5 314.3,1000.4 317.6,1000.3 320.8,1000.2 324.0,1000.1 327.2,999.9 330.5,999.8 333.7,999.7 336.9,999.5 340.1,999.3 343.4,999.2 346.6,999.0 349.8,998.7 353.1,998.5 356.3,998.2 359.5,997.9 362.7,997.6 366.0,997.2 369.2,996.8 372.4,996.4 375.6,995.9 378.9,995.3 382.1,994.7 385.3,994.0 388.5,993.2 391.8,992.3 395.0,991.3 398.2,990.2 401.5,989.0 404.7,987.7 407.9,986.2 411.1,984.6 414.4,982.8 417.6,980.9 420.8,978.7 424.0,976.3 427.3,973.8 430.5,971.0 433.7,967.9 437.0,964.6 440.2,961.0 443.4,957.1 446.6,953.0 449.9,948.5 453.1,943.8 456.3,938.7 459.5,933.3 462.8,927.6 466.0,921.5 469.2,915.2 472.5,908.5 475.7,901.5 478.9,894.2 482.1,886.7 485.4,878.8 488.6,870.8 491.8,862.5 495.0,854.0 498.3,845.3 501.5,836.6 504.7,827.7 507.9,818.7 511.2,809.8 514.4,800.9 517.6,792.0 520.9,783.3 524.1,774.8 527.3,766.4 530.5,758.4 533.8,750.7 537.0,743.4 540.2,736.6 543.4,730.3 546.7,724.5 549.9,719.3 553.1,714.7 556.4,710.8 559.6,707.6 562.8,705.2 566.0,703.5 569.3,702.5 572.5,702.1 575.7,702.1 578.9,702.5 582.2,703.4 585.4,704.8 588.6,706.5 591.9,708.7 595.1,711.2 598.3,714.1 601.5,717.4 604.8,721.0 608.0,725.0 611.2,729.2 614.4,733.7 617.7,738.4 620.9,743.4 624.1,748.5 627.3,753.8 630.6,759.3 633.8,765.0 637.0,770.7 640.3,776.5 643.5,782.4 646.7,788.4 649.9,794.4 653.2,800.4 656.4,806.4 659.6,812.4 662.8,818.4 666.1,824.3 669.3,830.1 672.5,835.9 675.8,841.6 679.0,847.3 682.2,852.8 685.4,858.2 688.7,863.5 691.9,868.6 695.1,873.7 698.3,878.6 701.6,883.3 704.8,887.9 708.0,892.4 711.2,896.7 714.5,900.9 717.7,904.9 720.9,908.7 724.2,912.4 727.4,915.9 730.6,919.3 733.8,922.5 737.1,925.6 740.3,928.5 743.5,931.2 746.7,933.8 750.0,936.3 753.2,938.6 756.4,940.7 759.7,942.7 762.9,944.6 766.1,946.3 769.3,947.8 772.6,949.3 775.8,950.6 779.0,951.7 782.2,952.7 785.5,953.6 788.7,954.4 791.9,955.0 795.2,955.5 798.4,955.9 801.6,956.1 804.8,956.3 808.1,956.3 811.3,956.2 814.5,956.0 817.7,955.6 821.0,955.2 824.2,954.7 827.4,954.0 830.6,953.3 833.9,952.4 837.1,951.5 840.3,950.5 843.6,949.4 846.8,948.2 850.0,946.9 853.2,945.5 856.5,944.1 859.7,942.6 862.9,941.0 866.1,939.4 869.4,937.7 872.6,935.9 875.8,934.1 879.1,932.3 882.3,930.4 885.5,928.5 888.7,926.6 892.0,924.7 895.2,922.7 898.4,920.7 901.6,918.7 904.9,916.7 908.1,914.8 911.3,912.8 914.6,910.9 917.8,909.0 921.0,907.1 924.2,905.3 927.5,903.5 930.7,901.8 933.9,900.2 937.1,898.6 940.4,897.1 943.6,895.7 946.8,894.3 950.0,893.1 953.3,892.0 956.5,891.0 959.7,890.1 963.0,889.3 966.2,888.7 969.4,888.1 972.6,887.8 975.9,887.5 979.1,887.4 982.3,887.4 985.5,887.6 988.8,887.9 992.0,888.3 995.2,888.9 998.5,889.6 1001.7,890.4 1004.9,891.4 1008.1,892.4 1011.4,893.6 1014.6,894.9 1017.8,896.4 1021.0,897.9 1024.3,899.5 1027.5,901.2 1030.7,902.9 1034.0,904.8 1037.2,906.7 1040.4,908.6 1043.6,910.7 1046.9,912.7 1050.1,914.8 1053.3,917.0 1056.5,919.1 1059.8,921.3 1063.0,923.5 1066.2,925.7 1069.4,928.0 1072.7,930.2 1075.9,932.4 1079.1,934.6 1082.4,936.8 1085.6,939.0 1088.8,941.2 1092.0,943.3 1095.3,945.4 1098.5,947.5 1101.7,949.6 1104.9,951.6 1108.2,953.5 1111.4,955.5 1114.6,957.4 1117.9,959.2 1121.1,961.0 1124.3,962.8 1127.5,964.5 1130.8,966.2 1134.0,967.8 1137.2,969.4 1140.4,970.9 1143.7,972.3 1146.9,973.8 1150.1,975.1 1153.3,976.4 1156.6,977.7 1159.8,978.9 1163.0,980.1 1166.3,981.2 1169.5,982.3 1172.7,983.3 1175.9,984.3 1179.2,985.2 1182.4,986.1 1185.6,987.0 1188.8,987.8 1192.1,988.6 1195.3,989.3 1198.5,990.0 1201.8,990.7 1205.0,991.3 1208.2,991.9 1211.4,992.4 1214.7,993.0 1217.9,993.5 1221.1,994.0 1224.3,994.4 1227.6,994.8 1230.8,995.2 1234.0,995.6 1237.3,996.0 1240.5,996.3 1243.7,996.6 1246.9,996.9 1250.2,997.2 1253.4,997.5 1256.6,997.7 1259.8,997.9 1263.1,998.2 1266.3,998.4 1269.5,998.6 1272.7,998.8 1276.0,998.9 1279.2,999.1 1282.4,999.2 1285.7,999.4 1288.9,999.5 1292.1,999.7 1295.3,999.8 1298.6,999.9 1301.8,1000.0 1305.0,1000.1 1308.2,1000.2 1311.5,1000.3 1314.7,1000.4 1317.9,1000.5 1321.2,1000.6 1324.4,1000.6 1327.6,1000.7 1330.8,1000.8 1334.1,1000.9 1337.3,1000.9 1340.5,1001.0 1343.7,1001.1 1347.0,1001.1 1350.2,1001.2 1353.4,1001.2 1356.7,1001.3 1359.9,1001.3 1363.1,1001.4 1366.3,1001.4 1369.6,1001.5 1372.8,1001.5 1376.0,1001.6 1379.2,1001.6 1382.5,1001.6 1385.7,1001.7 1388.9,1001.7 1392.1,1001.8 1395.4,1001.8 1398.6,1001.8 1401.8,1001.9 1405.1,1001.9 1408.3,1001.9 1411.5,1002.0 1414.7,1002.0 1418.0,1002.0 1421.2,1002.1 1424.4,1002.1 1427.6,1002.1 1430.9,1002.2 1434.1,1002.2 1437.3,1002.2 1440.6,1002.2 1443.8,1002.3 1447.0,1002.3 1450.2,1002.3 1453.5,1002.3 1456.7,1002.4 1459.9,1002.4 1463.1,1002.4 1466.4,1002.4 1469.6,1002.5 1472.8,1002.5 1476.0,1002.5 1479.3,1002.5 1482.5,1002.5 1485.7,1002.6 1489.0,1002.6 1492.2,1002.6 1495.4,1002.6 1498.6,1002.7 1501.9,1002.7 1505.1,1002.7 1508.3,1002.7 1511.5,1002.7 1514.8,1002.7 1518.0,1002.8"/>
<polyline points="227.2,1000.6 230.4,1000.6 233.7,1000.6 236.9,1000.5 240.1,1000.5 243.3,1000.5 246.6,1000.4 249.8,1000.4 253.0,1000.4 256.2,1000.3 259.5,1000.3 262.7,1000.3 265.9,1000.2 269.2,1000.2 272.4,1000.1 275.6,1000.1 278.8,1000.0 282.1,1000.0 285.3,999.9 288.5,999.9 291.7,999.8 295.0,999.8 298.2,999.7 301.4,999.7 304.6,999.6 307.9,999.5 311.1,999.5 314.3,999.4 317.6,999.3 320.8,999.2 324.0,999.1 327.2,999.0 330.5,998.9 333.7,998.8 336.9,998.7 340.1,998.5 343.4,998.4 346.6,998.2 349.8,998.0 353.1,997.8 356.3,997.6 359.5,997.3 362.7,997.0 366.0,996.7 369.2,996.4 372.4,996.0 375.6,995.6 378.9,995.1 382.1,994.6 385.3,994.0 388.5,993.3 391.8,992.6 395.0,991.8 398.2,990.9 401.5,989.9 404.7,988.8 407.9,987.6 411.1,986.3 414.4,984.9 417.6,983.3 420.8,981.6 424.0,979.7 427.3,977.7 430.5,975.5 433.7,973.0 437.0,970.4 440.2,967.6 443.4,964.6 446.6,961.4 449.9,957.9 453.1,954.2 456.3,950.3 459.5,946.1 462.8,941.7 466.0,937.1 469.2,932.2 472.5,927.0 475.7,921.7 478.9,916.1 482.1,910.2 485.4,904.2 488.6,898.0 491.8,891.6 495.0,885.0 498.3,878.3 501.5,871.5 504.7,864.5 507.9,857.5 511.2,850.5 514.4,843.4 517.6,836.4 520.9,829.4 524.1,822.5 527.3,815.7 530.5,809.1 533.8,802.7 537.0,796.5 540.2,790.6 543.4,785.1 546.7,779.8 549.9,775.0 553.1,770.6 556.4,766.7 559.6,763.2 562.8,760.3 566.0,757.9 569.3,756.1 572.5,754.8 575.7,754.0 578.9,753.7 582.2,753.7 585.4,754.0 588.6,754.7 591.9,755.8 595.1,757.1 598.3,758.8 601.5,760.8 604.8,763.0 608.0,765.6 611.2,768.4 614.4,771.5 617.7,774.8 620.9,778.4 624.1,782.1 627.3,786.0 630.6,790.1 633.8,794.4 637.0,798.8 640.3,803.3 643.5,807.9 646.7,812.6 649.9,817.4 653.2,822.2 656.4,827.1 659.6,832.0 662.8,836.9 666.1,841.8 669.3,846.7 672.5,851.6 675.8,856.5 679.0,861.3 682.2,866.0 685.4,870.7 688.7,875.3 691.9,879.8 695.1,884.3 698.3,888.6 701.6,892.9 704.8,897.0 708.0,901.0 711.2,905.0 714.5,908.7 717.7,912.4 720.9,916.0 724.2,919.4 727.4,922.6 730.6,925.8 733.8,928.8 737.1,931.7 740.3,934.4 743.5,937.0 746.7,939.5 750.0,941.8 753.2,944.0 756.4,946.1 759.7,948.0 762.9,949.8 766.1,951.5 769.3,953.0 772.6,954.5 775.8,955.8 779.0,956.9 782.2,958.0 785.5,958.9 788.7,959.7 791.9,960.4 795.2,961.0 798.4,961.5 801.6,961.9 804.8,962.1 808.1,962.3 811.3,962.4 814.5,962.3 817.7,962.2 821.0,962.0 824.2,961.7 827.4,961.3 830.6,960.8 833.9,960.2 837.1,959.6 840.3,958.9 843.6,958.1 846.8,957.3 850.0,956.4 853.2,955.4 856.5,954.4 859.7,953.3 862.9,952.2 866.1,951.0 869.4,949.8 872.6,948.5 875.8,947.2 879.1,945.9 882.3,944.5 885.5,943.1 888.7,941.7 892.0,940.3 895.2,938.8 898.4,937.4 901.6,935.9 904.9,934.5 908.1,933.1 911.3,931.6 914.6,930.2 917.8,928.8 921.0,927.4 924.2,926.1 927.5,924.8 930.7,923.5 933.9,922.3 937.1,921.1 940.4,920.0 943.6,918.9 946.8,917.9 950.0,916.9 953.3,916.1 956.5,915.3 959.7,914.5 963.0,913.9 966.2,913.3 969.4,912.9 972.6,912.5 975.9,912.2 979.1,912.0 982.3,911.9 985.5,911.9 988.8,911.9 992.0,912.1 995.2,912.4 998.5,912.8 1001.7,913.3 1004.9,913.9 1008.1,914.5 1011.4,915.3 1014.6,916.2 1017.8,917.1 1021.0,918.1 1024.3,919.2 1027.5,920.3 1030.7,921.6 1034.0,922.8 1037.2,924.2 1040.4,925.6 1043.6,927.0 1046.9,928.5 1050.1,930.0 1053.3,931.6 1056.5,933.2 1059.8,934.8 1063.0,936.4 1066.2,938.0 1069.4,939.7 1072.7,941.4 1075.9,943.1 1079.1,944.7 1082.4,946.4 1085.6,948.1 1088.8,949.8 1092.0,951.4 1095.3,953.1 1098.5,954.7 1101.7,956.3 1104.9,957.9 1108.2,959.5 1111.4,961.0 1114.6,962.5 1117.9,964.0 1121.1,965.5 1124.3,966.9 1127.5,968.3 1130.8,969.6 1134.0,971.0 1137.2,972.3 1140.4,973.5 1143.7,974.7 1146.9,975.9 1150.1,977.1 1153.3,978.2 1156.6,979.2 1159.8,980.3 1163.0,981.3 1166.3,982.2 1169.5,983.1 1172.7,984.0 1175.9,984.9 1179.2,985.7 1182.4,986.5 1185.6,987.2 1188.8,987.9 1192.1,988.6 1195.3,989.3 1198.5,989.9 1201.8,990.5 1205.0,991.0 1208.2,991.6 1211.4,992.1 1214.7,992.6 1217.9,993.0 1221.1,993.4 1224.3,993.9 1227.6,994.2 1230.8,994.6 1234.0,995.0 1237.3,995.3 1240.5,995.6 1243.7,995.9 1246.9,996.2 1250.2,996.4 1253.4,996.7 1256.6,996.9 1259.8,997.1 1263.1,997.3 1266.3,997.5 1269.5,997.7 1272.7,997.9 1276.0,998.0 1279.2,998.2 1282.4,998.3 1285.7,998.5 1288.9,998.6 1292.1,998.7 1295.3,998.8 1298.6,998.9 1301.8,999.0 1305.0,999.1 1308.2,999.2 1311.5,999.3 1314.7,999.4 1317.9,999.4 1321.2,999.5 1324.4,999.6 1327.6,999.7 1330.8,999.7 1334.1,999.8 1337.3,999.8 1340.5,999.9 1343.7,999.9 1347.0,1000.0 1350.2,1000.0 1353.4,1000.1 1356.7,1000.1 1359.9,1000.2 1363.1,1000.2 1366.3,1000.2 1369.6,1000.3 1372.8,1000.3 1376.0,1000.4 1379.2,1000.4 1382.5,1000.4 1385.7,1000.4 1388.9,1000.5 1392.1,1000.5 1395.4,1000.5 1398.6,1000.6 1401.8,1000.6 1405.1,1000.6 1408.3,1000.6 1411.5,1000.7 1414.7,1000.7 1418.0,1000.7 1421.2,1000.7 1424.4,1000.8 1427.6,1000.8 1430.9,1000.8 1434.1,1000.8 1437.3,1000.9 1440.6,1000.9 1443.8,1000.9 1447.0,1000.9 1450.2,1000.9 1453.5,1001.0 1456.7,1001.0 1459.9,1001.0 1463.1,1001.0 1466.4,1001.0 1469.6,1001.1 1472.8,1001.1 1476.0,1001.1 1479.3,1001.1 1482.5,1001.1 1485.7,1001.1 1489.0,1001.1 1492.2,1001.2 1495.4,1001.2 1498.6,1001.2 1501.9,1001.2 1505.1,1001.2 1508.3,1001.2 1511.5,1001.3 1514.8,1001.3 1518.0,1001.3"/>
<polyline points="227.2,1000.3 230.4,1000.3 233.7,1000.2 236.9,1000.2 240.1,1000.2 243.3,1000.2 246.6,1000.1 249.8,1000.1 253.0,1000.1 256.2,1000.1 259.5,1000.0 262.7,1000.0 265.9,1000.0 269.2,999.9 272.4,999.9 275.6,999.9 278.8,999.8 282.1,999.8 285.3,999.8 288.5,999.7 291.7,999.7 295.0,999.6 298.2,999.6 301.4,999.5 304.6,999.5 307.9,999.4 311.1,999.4 314.3,999.3 317.6,999.2 320.8,999.1 324.0,999.1 327.2,999.0 330.5,998.9 333.7,998.8 336.9,998.7 340.1,998.5 343.4,998.4 346.6,998.2 349.8,998.1 353.1,997.9 356.3,997.7 359.5,997.4 362.7,997.2 366.0,996.9 369.2,996.6 372.4,996.3 375.6,995.9 378.9,995.5 382.1,995.0 385.3,994.5 388.5,993.9 391.8,993.3 395.0,992.6 398.2,991.8 401.5,991.0 404.7,990.1 407.9,989.1 411.1,988.0 414.4,986.8 417.6,985.5 420.8,984.1 424.0,982.5 427.3,980.8 430.5,979.0 433.7,977.1 437.0,975.0 440.2,972.7 443.4,970.3 446.6,967.8 449.9,965.0 453.1,962.1 456.3,959.0 459.5,955.7 462.8,952.2 466.0,948.5 469.2,944.7 472.5,940.7 475.7,936.5 478.9,932.1 482.1,927.5 485.4,922.8 488.6,917.9 491.8,912.8 495.0,907.6 498.3,902.3 501.5,896.9 504.7,891.4 507.9,885.8 511.2,880.1 514.4,874.4 517.6,868.6 520.9,862.9 524.1,857.2 527.3,851.5 530.5,846.0 533.8,840.5 537.0,835.1 540.2,829.9 543.4,824.9 546.7,820.1 549.9,815.5 553.1,811.2 556.4,807.2 559.6,803.5 562.8,800.1 566.0,797.1 569.3,794.5 572.5,792.2 575.7,790.4 578.9,789.0 582.2,788.0 585.4,787.5 588.6,787.2 591.9,787.2 595.1,787.5 598.3,788.0 601.5,788.8 604.8,789.9 608.0,791.2 611.2,792.8 614.4,794.6 617.7,796.7 620.9,798.9 624.1,801.4 627.3,804.0 630.6,806.9 633.8,809.9 637.0,813.1 640.3,816.4 643.5,819.9 646.7,823.5 649.9,827.2 653.2,831.0 656.4,834.9 659.6,838.9 662.8,842.9 666.1,847.0 669.3,851.1 672.5,855.2 675.8,859.4 679.0,863.6 682.2,867.7 685.4,871.9 688.7,876.0 691.9,880.1 695.1,884.1 698.3,888.1 701.6,892.0 704.8,895.9 708.0,899.7 711.2,903.4 714.5,907.0 717.7,910.6 720.9,914.0 724.2,917.4 727.4,920.6 730.6,923.7 733.8,926.8 737.1,929.7 740.3,932.5 743.5,935.1 746.7,937.7 750.0,940.1 753.2,942.4 756.4,944.6 759.7,946.7 762.9,948.6 766.1,950.4 769.3,952.2 772.6,953.7 775.8,955.2 779.0,956.5 782.2,957.8 785.5,958.9 788.7,959.9 791.9,960.8 795.2,961.6 798.4,962.3 801.6,962.8 804.8,963.3 808.1,963.7 811.3,964.0 814.5,964.2 817.7,964.3 821.0,964.3 824.2,964.2 827.4,964.0 830.6,963.8 833.9,963.5 837.1,963.1 840.3,962.7 843.6,962.2 846.8,961.6 850.0,961.0 853.2,960.3 856.5,959.6 859.7,958.8 862.9,958.0 866.1,957.1 869.4,956.2 872.6,955.2 875.8,954.3 879.1,953.3 882.3,952.2 885.5,951.2 888.7,950.1 892.0,949.0 895.2,947.9 898.4,946.8 901.6,945.7 904.9,944.6 908.1,943.5 911.3,942.4 914.6,941.3 917.8,940.2 921.0,939.2 924.2,938.1 927.5,937.1 930.7,936.1 933.9,935.1 937.1,934.2 940.4,933.3 943.6,932.4 946.8,931.6 950.0,930.8 953.3,930.1 956.5,929.4 959.7,928.7 963.0,928.2 966.2,927.7 969.4,927.2 972.6,926.8 975.9,926.5 979.1,926.2 982.3,926.0 985.5,925.9 988.8,925.8 992.0,925.8 995.2,925.9 998.5,926.0 1001.7,926.3 1004.9,926.6 1008.1,926.9 1011.4,927.4 1014.6,927.9 1017.8,928.5 1021.0,929.1 1024.3,929.9 1027.5,930.7 1030.7,931.5 1034.0,932.4 1037.2,933.3 1040.4,934.3 1043.6,935.4 1046.9,936.5 1050.1,937.6 1053.3,938.8 1056.5,940.0 1059.8,941.2 1063.0,942.5 1066.2,943.7 1069.4,945.0 1072.7,946.4 1075.9,947.7 1079.1,949.0 1082.4,950.4 1085.6,951.8 1088.8,953.1 1092.0,954.5 1095.3,955.8 1098.5,957.2 1101.7,958.5 1104.9,959.9 1108.2,961.2 1111.4,962.5 1114.6,963.8 1117.9,965.1 1121.1,966.4 1124.3,967.6 1127.5,968.9 1130.8,970.1 1134.0,971.3 1137.2,972.4 1140.4,973.5 1143.7,974.6 1146.9,975.7 1150.1,976.8 1153.3,977.8 1156.6,978.8 1159.8,979.8 1163.0,980.7 1166.3,981.6 1169.5,982.5 1172.7,983.3 1175.9,984.1 1179.2,984.9 1182.4,985.7 1185.6,986.4 1188.8,987.1 1192.1,987.8 1195.3,988.4 1198.5,989.1 1201.8,989.7 1205.0,990.2 1208.2,990.8 1211.4,991.3 1214.7,991.8 1217.9,992.3 1221.1,992.7 1224.3,993.1 1227.6,993.5 1230.8,993.9 1234.0,994.3 1237.3,994.6 1240.5,995.0 1243.7,995.3 1246.9,995.6 1250.2,995.9 1253.4,996.1 1256.6,996.4 1259.8,996.6 1263.1,996.8 1266.3,997.1 1269.5,997.3 1272.7,997.4 1276.0,997.6 1279.2,997.8 1282.4,997.9 1285.7,998.1 1288.9,998.2 1292.1,998.4 1295.3,998.5 1298.6,998.6 1301.8,998.7 1305.0,998.8 1308.2,998.9 1311.5,999.0 1314.7,999.1 1317.9,999.2 1321.2,999.2 1324.4,999.3 1327.6,999.4 1330.8,999.4 1334.1,999.5 1337.3,999.6 1340.5,999.6 1343.7,999.7 1347.0,999.7 1350.2,999.8 1353.4,999.8 1356.7,999.8 1359.9,999.9 1363.1,999.9 1366.3,1000.0 1369.6,1000.0 1372.8,1000.0 1376.0,1000.1 1379.2,1000.1 1382.5,1000.1 1385.7,1000.1 1388.9,1000.2 1392.1,1000.2 1395.4,1000.2 1398.6,1000.2 1401.8,1000.3 1405.1,1000.3 1408.3,1000.3 1411.5,1000.3 1414.7,1000.4 1418.0,1000.4 1421.2,1000.4 1424.4,1000.4 1427.6,1000.4 1430.9,1000.5 1434.1,1000.5 1437.3,1000.5 1440.6,1000.5 1443.8,1000.5 1447.0,1000.5 1450.2,1000.6 1453.5,1000.6 1456.7,1000.6 1459.9,1000.6 1463.1,1000.6 1466.4,1000.6 1469.6,1000.6 1472.8,1000.7 1476.0,1000.7 1479.3,1000.7 1482.5,1000.7 1485.7,1000.7 1489.0,1000.7 1492.2,1000.7 1495.4,1000.7 1498.6,1000.8 1501.9,1000.8 1505.1,1000.8 1508.3,1000.8 1511.5,1000.8 1514.8,1000.8 1518.0,1000.8"/>
<polyline points="227.2,1001.7 230.4,1001.6 233.7,1001.6 236.9,1001.6 240.1,1001.6 243.3,1001.6 246.6,1001.5 249.8,1001.5 253.0,1001.5 256.2,1001.5 259.5,1001.4 262.7,1001.4 265.9,1001.4 269.2,1001.4 272.4,1001.3 275.6,1001.3 278.8,1001.3 282.1,1001.2 285.3,1001.2 288.5,1001.2 291.7,1001.1 295.0,1001.1 298.2,1001.1 301.4,1001.0 304.6,1001.0 307.9,1000.9 311.1,1000.9 314.3,1000.8 317.6,1000.8 320.8,1000.7 324.0,1000.6 327.2,1000.5 330.5,1000.5 333.7,1000.4 336.9,1000.3 340.1,1000.1 343.4,1000.0 346.6,999.9 349.8,999.7 353.1,999.6 356.3,999.4 359.5,999.2 362.7,999.0 366.0,998.7 369.2,998.4 372.4,998.1 375.6,997.8 378.9,997.4 382.1,997.0 385.3,996.6 388.5,996.1 391.8,995.5 395.0,994.9 398.2,994.3 401.5,993.5 404.7,992.8 407.9,991.9 411.1,991.0 414.4,990.0 417.6,988.9 420.8,987.7 424.0,986.4 427.3,985.0 430.5,983.5 433.7,981.9 437.0,980.1 440.2,978.3 443.4,976.3 446.6,974.1 449.9,971.9 453.1,969.5 456.3,967.0 459.5,964.3 462.8,961.4 466.0,958.5 469.2,955.3 472.5,952.0 475.7,948.6 478.9,945.0 482.1,941.3 485.4,937.5 488.6,933.5 491.8,929.4 495.0,925.2 498.3,920.8 501.5,916.4 504.7,911.9 507.9,907.3 511.2,902.6 514.4,897.9 517.6,893.2 520.9,888.4 524.1,883.6 527.3,878.9 530.5,874.2 533.8,869.5 537.0,864.9 540.2,860.5 543.4,856.1 546.7,851.9 549.9,847.8 553.1,843.9 556.4,840.2 559.6,836.7 562.8,833.5 566.0,830.5 569.3,827.8 572.5,825.3 575.7,823.2 578.9,821.4 582.2,820.0 585.4,818.8 588.6,818.0 591.9,817.6 595.1,817.3 598.3,817.3 601.5,817.6 604.8,818.0 608.0,818.7 611.2,819.5 614.4,820.6 617.7,821.9 620.9,823.4 624.1,825.1 627.3,826.9 630.6,829.0 633.8,831.2 637.0,833.6 640.3,836.1 643.5,838.7 646.7,841.5 649.9,844.4 653.2,847.4 656.4,850.5 659.6,853.7 662.8,857.0 666.1,860.3 669.3,863.7 672.5,867.2 675.8,870.7 679.0,874.2 682.2,877.7 685.4,881.3 688.7,884.8 691.9,888.3 695.1,891.9 698.3,895.4 701.6,898.8 704.8,902.3 708.0,905.7 711.2,909.0 714.5,912.3 717.7,915.5 720.9,918.6 724.2,921.7 727.4,924.6 730.6,927.5 733.8,930.3 737.1,933.1 740.3,935.7 743.5,938.2 746.7,940.6 750.0,942.9 753.2,945.2 756.4,947.3 759.7,949.3 762.9,951.2 766.1,952.9 769.3,954.6 772.6,956.2 775.8,957.7 779.0,959.0 782.2,960.3 785.5,961.4 788.7,962.5 791.9,963.4 795.2,964.3 798.4,965.0 801.6,965.7 804.8,966.2 808.1,966.7 811.3,967.1 814.5,967.4 817.7,967.6 821.0,967.7 824.2,967.8 827.4,967.8 830.6,967.7 833.9,967.5 837.1,967.3 840.3,967.0 843.6,966.6 846.8,966.2 850.0,965.8 853.2,965.3 856.5,964.7 859.7,964.1 862.9,963.5 866.1,962.8 869.4,962.1 872.6,961.3 875.8,960.5 879.1,959.7 882.3,958.9 885.5,958.1 888.7,957.2 892.0,956.3 895.2,955.4 898.4,954.5 901.6,953.6 904.9,952.7 908.1,951.8 911.3,950.9 914.6,950.0 917.8,949.1 921.0,948.2 924.2,947.3 927.5,946.5 930.7,945.6 933.9,944.8 937.1,944.0 940.4,943.3 943.6,942.5 946.8,941.8 950.0,941.2 953.3,940.5 956.5,939.9 959.7,939.4 963.0,938.8 966.2,938.4 969.4,938.0 972.6,937.6 975.9,937.2 979.1,937.0 982.3,936.7 985.5,936.6 988.8,936.4 992.0,936.4 995.2,936.3 998.5,936.4 1001.7,936.5 1004.9,936.6 1008.1,936.9 1011.4,937.2 1014.6,937.5 1017.8,937.9 1021.0,938.4 1024.3,938.9 1027.5,939.5 1030.7,940.1 1034.0,940.8 1037.2,941.5 1040.4,942.3 1043.6,943.1 1046.9,943.9 1050.1,944.8 1053.3,945.7 1056.5,946.7 1059.8,947.7 1063.0,948.7 1066.2,949.8 1069.4,950.8 1072.7,951.9 1075.9,953.0 1079.1,954.1 1082.4,955.3 1085.6,956.4 1088.8,957.6 1092.0,958.7 1095.3,959.9 1098.5,961.1 1101.7,962.2 1104.9,963.4 1108.2,964.6 1111.4,965.7 1114.6,966.9 1117.9,968.0 1121.1,969.1 1124.3,970.2 1127.5,971.3 1130.8,972.4 1134.0,973.5 1137.2,974.5 1140.4,975.5 1143.7,976.6 1146.9,977.5 1150.1,978.5 1153.3,979.5 1156.6,980.4 1159.8,981.3 1163.0,982.1 1166.3,983.0 1169.5,983.8 1172.7,984.6 1175.9,985.4 1179.2,986.2 1182.4,986.9 1185.6,987.6 1188.8,988.3 1192.1,988.9 1195.3,989.6 1198.5,990.2 1201.8,990.8 1205.0,991.3 1208.2,991.9 1211.4,992.4 1214.7,992.9 1217.9,993.3 1221.1,993.8 1224.3,994.2 1227.6,994.6 1230.8,995.0 1234.0,995.4 1237.3,995.8 1240.5,996.1 1243.7,996.4 1246.9,996.7 1250.2,997.0 1253.4,997.3 1256.6,997.6 1259.8,997.8 1263.1,998.0 1266.3,998.3 1269.5,998.5 1272.7,998.7 1276.0,998.9 1279.2,999.0 1282.4,999.2 1285.7,999.3 1288.9,999.5 1292.1,999.6 1295.3,999.8 1298.6,999.9 1301.8,1000.0 1305.0,1000.1 1308.2,1000.2 1311.5,1000.3 1314.7,1000.4 1317.9,1000.5 1321.2,1000.6 1324.4,1000.6 1327.6,1000.7 1330.8,1000.8 1334.1,1000.8 1337.3,1000.9 1340.5,1001.0 1343.7,1001.0 1347.0,1001.1 1350.2,1001.1 1353.4,1001.2 1356.7,1001.2 1359.9,1001.2 1363.1,1001.3 1366.3,1001.3 1369.6,1001.3 1372.8,1001.4 1376.0,1001.4 1379.2,1001.4 1382.5,1001.5 1385.7,1001.5 1388.9,1001.5 1392.1,1001.5 1395.4,1001.6 1398.6,1001.6 1401.8,1001.6 1405.1,1001.6 1408.3,1001.6 1411.5,1001.7 1414.7,1001.7 1418.0,1001.7 1421.2,1001.7 1424.4,1001.7 1427.6,1001.8 1430.9,1001.8 1434.1,1001.8 1437.3,1001.8 1440.6,1001.8 1443.8,1001.8 1447.0,1001.8 1450.2,1001.9 1453.5,1001.9 1456.7,1001.9 1459.9,1001.9 1463.1,1001.9 1466.4,1001.9 1469.6,1001.9 1472.8,1001.9 1476.0,1001.9 1479.3,1002.0 1482.5,1002.0 1485.7,1002.0 1489.0,1002.0 1492.2,1002.0 1495.4,1002.0 1498.6,1002.0 1501.9,1002.0 1505.1,1002.0 1508.3,1002.0 1511.5,1002.1 1514.8,1002.1 1518.0,1002.1"/>
<polyline points="227.2,999.0 230.4,999.0 233.7,999.0 236.9,999.0 240.1,999.0 243.3,998.9 246.6,998.9 249.8,998.9 253.0,998.9 256.2,998.9 259.5,998.8 262.7,998.8 265.9,998.8 269.2,998.8 272.4,998.8 275.6,998.7 278.8,998.7 282.1,998.7 285.3,998.6 288.5,998.6 291.7,998.6 295.0,998.6 298.2,998.5 301.4,998.5 304.6,998.4 307.9,998.4 311.1,998.3 314.3,998.3 317.6,998.2 320.8,998.2 324.0,998.1 327.2,998.0 330.5,998.0 333.7,997.9 336.9,997.8 340.1,997.7 343.4,997.6 346.6,997.4 349.8,997.3 353.1,997.1 356.3,997.0 359.5,996.8 362.7,996.6 366.0,996.3 369.2,996.1 372.4,995.8 375.6,995.5 378.9,995.1 382.1,994.8 385.3,994.3 388.5,993.9 391.8,993.4 395.0,992.8 398.2,992.2 401.5,991.6 404.7,990.9 407.9,990.1 411.1,989.2 414.4,988.3 417.6,987.3 420.8,986.2 424.0,985.1 427.3,983.8 430.5,982.5 433.7,981.0 437.0,979.5 440.2,977.8 443.4,976.0 446.6,974.1 449.9,972.1 453.1,970.0 456.3,967.7 459.5,965.3 462.8,962.8 466.0,960.1 469.2,957.3 472.5,954.4 475.7,951.4 478.9,948.2 482.1,944.9 485.4,941.5 488.6,937.9 491.8,934.3 495.0,930.5 498.3,926.7 501.5,922.7 504.7,918.7 507.9,914.6 511.2,910.4 514.4,906.2 517.6,901.9 520.9,897.7 524.1,893.4 527.3,889.1 530.5,884.9 533.8,880.6 537.0,876.5 540.2,872.4 543.4,868.4 546.7,864.5 549.9,860.7 553.1,857.1 556.4,853.7 559.6,850.4 562.8,847.3 566.0,844.4 569.3,841.8 572.5,839.4 575.7,837.3 578.9,835.4 582.2,833.8 585.4,832.5 588.6,831.5 591.9,830.8 595.1,830.3 598.3,830.1 601.5,830.1 604.8,830.3 608.0,830.7 611.2,831.3 614.4,832.1 617.7,833.1 620.9,834.2 624.1,835.6 627.3,837.1 630.6,838.7 633.8,840.5 637.0,842.5 640.3,844.6 643.5,846.9 646.7,849.3 649.9,851.8 653.2,854.4 656.4,857.1 659.6,859.9 662.8,862.8 666.1,865.7 669.3,868.8 672.5,871.8 675.8,875.0 679.0,878.1 682.2,881.3 685.4,884.5 688.7,887.7 691.9,891.0 695.1,894.2 698.3,897.4 701.6,900.6 704.8,903.8 708.0,906.9 711.2,910.0 714.5,913.0 717.7,916.0 720.9,919.0 724.2,921.8 727.4,924.6 730.6,927.4 733.8,930.0 737.1,932.6 740.3,935.1 743.5,937.5 746.7,939.9 750.0,942.1 753.2,944.2 756.4,946.3 759.7,948.2 762.9,950.1 766.1,951.9 769.3,953.5 772.6,955.1 775.8,956.6 779.0,957.9 782.2,959.2 785.5,960.4 788.7,961.5 791.9,962.4 795.2,963.3 798.4,964.1 801.6,964.9 804.8,965.5 808.1,966.0 811.3,966.5 814.5,966.9 817.7,967.2 821.0,967.4 824.2,967.6 827.4,967.7 830.6,967.7 833.9,967.7 837.1,967.6 840.3,967.4 843.6,967.2 846.8,966.9 850.0,966.6 853.2,966.2 856.5,965.8 859.7,965.3 862.9,964.8 866.1,964.3 869.4,963.7 872.6,963.1 875.8,962.5 879.1,961.9 882.3,961.2 885.5,960.5 888.7,959.8 892.0,959.1 895.2,958.3 898.4,957.6 901.6,956.8 904.9,956.1 908.1,955.3 911.3,954.6 914.6,953.8 917.8,953.1 921.0,952.3 924.2,951.6 927.5,950.9 930.7,950.1 933.9,949.5 937.1,948.8 940.4,948.1 943.6,947.5 946.8,946.9 950.0,946.3 953.3,945.8 956.5,945.3 959.7,944.8 963.0,944.3 966.2,943.9 969.4,943.5 972.6,943.2 975.9,942.9 979.1,942.6 982.3,942.4 985.5,942.3 988.8,942.1 992.0,942.0 995.2,942.0 998.5,942.0 1001.7,942.0 1004.9,942.1 1008.1,942.3 1011.4,942.5 1014.6,942.8 1017.8,943.1 1021.0,943.4 1024.3,943.8 1027.5,944.3 1030.7,944.8 1034.0,945.3 1037.2,945.9 1040.4,946.5 1043.6,947.2 1046.9,947.9 1050.1,948.6 1053.3,949.4 1056.5,950.2 1059.8,951.0 1063.0,951.9 1066.2,952.8 1069.4,953.7 1072.7,954.6 1075.9,955.5 1079.1,956.5 1082.4,957.5 1085.6,958.4 1088.8,959.4 1092.0,960.4 1095.3,961.4 1098.5,962.4 1101.7,963.4 1104.9,964.4 1108.2,965.4 1111.4,966.4 1114.6,967.4 1117.9,968.4 1121.1,969.4 1124.3,970.4 1127.5,971.3 1130.8,972.3 1134.0,973.2 1137.2,974.2 1140.4,975.1 1143.7,976.0 1146.9,976.8 1150.1,977.7 1153.3,978.5 1156.6,979.4 1159.8,980.2 1163.0,981.0 1166.3,981.7 1169.5,982.5 1172.7,983.2 1175.9,983.9 1179.2,984.6 1182.4,985.3 1185.6,985.9 1188.8,986.5 1192.1,987.1 1195.3,987.7 1198.5,988.3 1201.8,988.8 1205.0,989.3 1208.2,989.8 1211.4,990.3 1214.7,990.7 1217.9,991.2 1221.1,991.6 1224.3,992.0 1227.6,992.4 1230.8,992.8 1234.0,993.1 1237.3,993.4 1240.5,993.8 1243.7,994.1 1246.9,994.4 1250.2,994.6 1253.4,994.9 1256.6,995.1 1259.8,995.4 1263.1,995.6 1266.3,995.8 1269.5,996.0 1272.7,996.2 1276.0,996.4 1279.2,996.5 1282.4,996.7 1285.7,996.9 1288.9,997.0 1292.1,997.1 1295.3,997.3 1298.6,997.4 1301.8,997.5 1305.0,997.6 1308.2,997.7 1311.5,997.8 1314.7,997.9 1317.9,997.9 1321.2,998.0 1324.4,998.1 1327.6,998.2 1330.8,998.2 1334.1,998.3 1337.3,998.3 1340.5,998.4 1343.7,998.5 1347.0,998.5 1350.2,998.5 1353.4,998.6 1356.7,998.6 1359.9,998.7 1363.1,998.7 1366.3,998.7 1369.6,998.8 1372.8,998.8 1376.0,998.8 1379.2,998.9 1382.5,998.9 1385.7,998.9 1388.9,998.9 1392.1,998.9 1395.4,999.0 1398.6,999.0 1401.8,999.0 1405.1,999.0 1408.3,999.0 1411.5,999.1 1414.7,999.1 1418.0,999.1 1421.2,999.1 1424.4,999.1 1427.6,999.1 1430.9,999.2 1434.1,999.2 1437.3,999.2 1440.6,999.2 1443.8,999.2 1447.0,999.2 1450.2,999.2 1453.5,999.2 1456.7,999.2 1459.9,999.3 1463.1,999.3 1466.4,999.3 1469.6,999.3 1472.8,999.3 1476.0,999.3 1479.3,999.3 1482.5,999.3 1485.7,999.3 1489.0,999.3 1492.2,999.3 1495.4,999.4 1498.6,999.4 1501.9,999.4 1505.1,999.4 1508.3,999.4 1511.5,999.4 1514.8,999.4 1518.0,999.4"/>
<polyline points="227.2,1001.5 230.4,1001.5 233.7,1001.5 236.9,1001.5 240.1,1001.5 243.3,1001.5 246.6,1001.5 249.8,1001.5 253.0,1001.4 256.2,1001.4 259.5,1001.4 262.7,1001.4 265.9,1001.4 269.2,1001.4 272.4,1001.3 275.6,1001.3 278.8,1001.3 282.1,1001.3 285.3,1001.3 288.5,1001.2 291.7,1001.2 295.0,1001.2 298.2,1001.1 301.4,1001.1 304.6,1001.1 307.9,1001.0 311.1,1001.0 314.3,1000.9 317.6,1000.9 320.8,1000.8 324.0,1000.8 327.2,1000.7 330.5,1000.6 333.7,1000.6 336.9,1000.5 340.1,1000.4 343.4,1000.3 346.6,1000.2 349.8,1000.0 353.1,999.9 356.3,999.7 359.5,999.6 362.7,999.4 366.0,999.1 369.2,998.9 372.4,998.7 375.6,998.4 378.9,998.1 382.1,997.7 385.3,997.4 388.5,997.0 391.8,996.5 395.0,996.1 398.2,995.5 401.5,995.0 404.7,994.4 407.9,993.7 411.1,993.0 414.4,992.2 417.6,991.3 420.8,990.4 424.0,989.5 427.3,988.4 430.5,987.3 433.7,986.1 437.0,984.8 440.2,983.4 443.4,982.0 446.6,980.4 449.9,978.8 453.1,977.0 456.3,975.2 459.5,973.3 462.8,971.2 466.0,969.1 469.2,966.9 472.5,964.5 475.7,962.1 478.9,959.5 482.1,956.9 485.4,954.1 488.6,951.3 491.8,948.4 495.0,945.4 498.3,942.3 501.5,939.1 504.7,935.8 507.9,932.5 511.2,929.1 514.4,925.7 517.6,922.2 520.9,918.7 524.1,915.2 527.3,911.7 530.5,908.1 533.8,904.6 537.0,901.1 540.2,897.6 543.4,894.2 546.7,890.8 549.9,887.5 553.1,884.3 556.4,881.2 559.6,878.2 562.8,875.3 566.0,872.5 569.3,869.9 572.5,867.5 575.7,865.2 578.9,863.1 582.2,861.2 585.4,859.5 588.6,858.1 591.9,856.8 595.1,855.8 598.3,854.9 601.5,854.4 604.8,854.0 608.0,853.9 611.2,853.9 614.4,854.0 617.7,854.3 620.9,854.8 624.1,855.4 627.3,856.2 630.6,857.1 633.8,858.2 637.0,859.4 640.3,860.8 643.5,862.3 646.7,863.9 649.9,865.6 653.2,867.4 656.4,869.4 659.6,871.4 662.8,873.6 666.1,875.8 669.3,878.1 672.5,880.5 675.8,882.9 679.0,885.4 682.2,888.0 685.4,890.6 688.7,893.2 691.9,895.9 695.1,898.6 698.3,901.3 701.6,904.0 704.8,906.7 708.0,909.4 711.2,912.1 714.5,914.8 717.7,917.4 720.9,920.1 724.2,922.7 727.4,925.2 730.6,927.7 733.8,930.2 737.1,932.6 740.3,935.0 743.5,937.3 746.7,939.5 750.0,941.7 753.2,943.7 756.4,945.8 759.7,947.7 762.9,949.6 766.1,951.4 769.3,953.1 772.6,954.7 775.8,956.2 779.0,957.7 782.2,959.1 785.5,960.4 788.7,961.6 791.9,962.7 795.2,963.8 798.4,964.7 801.6,965.6 804.8,966.4 808.1,967.2 811.3,967.8 814.5,968.4 817.7,968.9 821.0,969.3 824.2,969.7 827.4,970.0 830.6,970.3 833.9,970.4 837.1,970.6 840.3,970.6 843.6,970.6 846.8,970.6 850.0,970.5 853.2,970.4 856.5,970.2 859.7,969.9 862.9,969.7 866.1,969.4 869.4,969.0 872.6,968.7 875.8,968.3 879.1,967.9 882.3,967.4 885.5,966.9 888.7,966.4 892.0,965.9 895.2,965.4 898.4,964.9 901.6,964.3 904.9,963.8 908.1,963.2 911.3,962.6 914.6,962.1 917.8,961.5 921.0,960.9 924.2,960.4 927.5,959.8 930.7,959.3 933.9,958.7 937.1,958.2 940.4,957.7 943.6,957.2 946.8,956.7 950.0,956.2 953.3,955.8 956.5,955.4 959.7,955.0 963.0,954.6 966.2,954.2 969.4,953.9 972.6,953.6 975.9,953.3 979.1,953.1 982.3,952.8 985.5,952.6 988.8,952.5 992.0,952.4 995.2,952.3 998.5,952.2 1001.7,952.2 1004.9,952.2 1008.1,952.2 1011.4,952.3 1014.6,952.4 1017.8,952.5 1021.0,952.7 1024.3,953.0 1027.5,953.3 1030.7,953.6 1034.0,953.9 1037.2,954.3 1040.4,954.8 1043.6,955.2 1046.9,955.7 1050.1,956.2 1053.3,956.8 1056.5,957.4 1059.8,958.0 1063.0,958.6 1066.2,959.3 1069.4,960.0 1072.7,960.7 1075.9,961.4 1079.1,962.1 1082.4,962.9 1085.6,963.7 1088.8,964.5 1092.0,965.3 1095.3,966.1 1098.5,966.9 1101.7,967.7 1104.9,968.6 1108.2,969.4 1111.4,970.2 1114.6,971.1 1117.9,971.9 1121.1,972.8 1124.3,973.6 1127.5,974.4 1130.8,975.3 1134.0,976.1 1137.2,976.9 1140.4,977.7 1143.7,978.5 1146.9,979.3 1150.1,980.1 1153.3,980.8 1156.6,981.6 1159.8,982.3 1163.0,983.0 1166.3,983.8 1169.5,984.5 1172.7,985.1 1175.9,985.8 1179.2,986.5 1182.4,987.1 1185.6,987.7 1188.8,988.3 1192.1,988.9 1195.3,989.5 1198.5,990.0 1201.8,990.5 1205.0,991.1 1208.2,991.6 1211.4,992.0 1214.7,992.5 1217.9,993.0 1221.1,993.4 1224.3,993.8 1227.6,994.2 1230.8,994.6 1234.0,994.9 1237.3,995.3 1240.5,995.6 1243.7,996.0 1246.9,996.3 1250.2,996.6 1253.4,996.9 1256.6,997.1 1259.8,997.4 1263.1,997.6 1266.3,997.9 1269.5,998.1 1272.7,998.3 1276.0,998.5 1279.2,998.7 1282.4,998.9 1285.7,999.0 1288.9,999.2 1292.1,999.3 1295.3,999.5 1298.6,999.6 1301.8,999.8 1305.0,999.9 1308.2,1000.0 1311.5,1000.1 1314.7,1000.2 1317.9,1000.3 1321.2,1000.4 1324.4,1000.5 1327.6,1000.5 1330.8,1000.6 1334.1,1000.7 1337.3,1000.8 1340.5,1000.8 1343.7,1000.9 1347.0,1000.9 1350.2,1001.0 1353.4,1001.0 1356.7,1001.1 1359.9,1001.1 1363.1,1001.2 1366.3,1001.2 1369.6,1001.2 1372.8,1001.3 1376.0,1001.3 1379.2,1001.3 1382.5,1001.4 1385.7,1001.4 1388.9,1001.4 1392.1,1001.4 1395.4,1001.5 1398.6,1001.5 1401.8,1001.5 1405.1,1001.5 1408.3,1001.5 1411.5,1001.5 1414.7,1001.6 1418.0,1001.6 1421.2,1001.6 1424.4,1001.6 1427.6,1001.6 1430.9,1001.6 1434.1,1001.6 1437.3,1001.7 1440.6,1001.7 1443.8,1001.7 1447.0,1001.7 1450.2,1001.7 1453.5,1001.7 1456.7,1001.7 1459.9,1001.7 1463.1,1001.7 1466.4,1001.7 1469.6,1001.7 1472.8,1001.7 1476.0,1001.8 1479.3,1001.8 1482.5,1001.8 1485.7,1001.8 1489.0,1001.8 1492.2,1001.8 1495.4,1001.8 1498.6,1001.8 1501.9,1001.8 1505.1,1001.8 1508.3,1001.8 1511.5,1001.8 1514.8,1001.8 1518.0,1001.8"/>
<polyline points="227.2,1000.1 230.4,1000.1 233.7,1000.1 236.9,1000.1 240.1,1000.0 243.3,1000.0 246.6,1000.0 249.8,1000.0 253.0,1000.0 256.2,1000.0 259.5,1000.0 262.7,1000.0 265.9,1000.0 269.2,999.9 272.4,999.9 275.6,999.9 278.8,999.9 282.1,999.9 285.3,999.9 288.5,999.8 291.7,999.8 295.0,999.8 298.2,999.8 301.4,999.7 304.6,999.7 307.9,999.7 311.1,999.6 314.3,999.6 317.6,999.5 320.8,999.5 324.0,999.4 327.2,999.4 330.5,999.3 333.7,999.2 336.9,999.1 340.1,999.1 343.4,999.0 346.6,998.8 349.8,998.7 353.1,998.6 356.3,998.5 359.5,998.3 362.7,998.1 366.0,997.9 369.2,997.7 372.4,997.5 375.6,997.2 378.9,997.0 382.1,996.7 385.3,996.3 388.5,996.0 391.8,995.6 395.0,995.1 398.2,994.7 401.5,994.2 404.7,993.6 407.9,993.0 411.1,992.4 414.4,991.7 417.6,991.0 420.8,990.2 424.0,989.4 427.3,988.4 430.5,987.5 433.7,986.4 437.0,985.3 440.2,984.2 443.4,982.9 446.6,981.6 449.9,980.2 453.1,978.7 456.3,977.1 459.5,975.5 462.8,973.8 466.0,971.9 469.2,970.0 472.5,968.1 475.7,966.0 478.9,963.8 482.1,961.6 485.4,959.3 488.6,956.9 491.8,954.4 495.0,951.8 498.3,949.2 501.5,946.5 504.7,943.8 507.9,940.9 511.2,938.1 514.4,935.2 517.6,932.2 520.9,929.2 524.1,926.2 527.3,923.2 530.5,920.1 533.8,917.1 537.0,914.0 540.2,911.0 543.4,908.0 546.7,905.0 549.9,902.1 553.1,899.2 556.4,896.4 559.6,893.7 562.8,891.1 566.0,888.6 569.3,886.1 572.5,883.8 575.7,881.6 578.9,879.6 582.2,877.7 585.4,875.9 588.6,874.4 591.9,872.9 595.1,871.7 598.3,870.6 601.5,869.8 604.8,869.1 608.0,868.6 611.2,868.3 614.4,868.2 617.7,868.2 620.9,868.3 624.1,868.6 627.3,869.0 630.6,869.5 633.8,870.2 637.0,870.9 640.3,871.8 643.5,872.9 646.7,874.0 649.9,875.3 653.2,876.6 656.4,878.1 659.6,879.6 662.8,881.3 666.1,883.0 669.3,884.8 672.5,886.7 675.8,888.7 679.0,890.7 682.2,892.8 685.4,895.0 688.7,897.2 691.9,899.4 695.1,901.7 698.3,903.9 701.6,906.3 704.8,908.6 708.0,910.9 711.2,913.3 714.5,915.6 717.7,917.9 720.9,920.3 724.2,922.6 727.4,924.9 730.6,927.1 733.8,929.4 737.1,931.5 740.3,933.7 743.5,935.8 746.7,937.9 750.0,939.9 753.2,941.8 756.4,943.7 759.7,945.6 762.9,947.4 766.1,949.1 769.3,950.7 772.6,952.3 775.8,953.9 779.0,955.3 782.2,956.7 785.5,958.0 788.7,959.2 791.9,960.4 795.2,961.5 798.4,962.5 801.6,963.5 804.8,964.4 808.1,965.2 811.3,965.9 814.5,966.6 817.7,967.2 821.0,967.8 824.2,968.3 827.4,968.7 830.6,969.1 833.9,969.4 837.1,969.6 840.3,969.8 843.6,970.0 846.8,970.1 850.0,970.2 853.2,970.2 856.5,970.1 859.7,970.1 862.9,969.9 866.1,969.8 869.4,969.6 872.6,969.4 875.8,969.2 879.1,968.9 882.3,968.6 885.5,968.3 888.7,967.9 892.0,967.6 895.2,967.2 898.4,966.8 901.6,966.4 904.9,966.0 908.1,965.6 911.3,965.1 914.6,964.7 917.8,964.2 921.0,963.8 924.2,963.4 927.5,962.9 930.7,962.5 933.9,962.1 937.1,961.6 940.4,961.2 943.6,960.8 946.8,960.4 950.0,960.0 953.3,959.6 956.5,959.3 959.7,958.9 963.0,958.6 966.2,958.3 969.4,958.0 972.6,957.8 975.9,957.5 979.1,957.3 982.3,957.1 985.5,956.9 988.8,956.7 992.0,956.6 995.2,956.5 998.5,956.4 1001.7,956.3 1004.9,956.3 1008.1,956.3 1011.4,956.3 1014.6,956.4 1017.8,956.5 1021.0,956.6 1024.3,956.7 1027.5,956.9 1030.7,957.1 1034.0,957.4 1037.2,957.7 1040.4,958.0 1043.6,958.3 1046.9,958.7 1050.1,959.1 1053.3,959.5 1056.5,960.0 1059.8,960.4 1063.0,961.0 1066.2,961.5 1069.4,962.0 1072.7,962.6 1075.9,963.2 1079.1,963.8 1082.4,964.4 1085.6,965.1 1088.8,965.7 1092.0,966.4 1095.3,967.1 1098.5,967.7 1101.7,968.4 1104.9,969.1 1108.2,969.9 1111.4,970.6 1114.6,971.3 1117.9,972.0 1121.1,972.8 1124.3,973.5 1127.5,974.2 1130.8,974.9 1134.0,975.7 1137.2,976.4 1140.4,977.1 1143.7,977.8 1146.9,978.5 1150.1,979.2 1153.3,979.9 1156.6,980.6 1159.8,981.3 1163.0,981.9 1166.3,982.6 1169.5,983.2 1172.7,983.8 1175.9,984.5 1179.2,985.1 1182.4,985.7 1185.6,986.2 1188.8,986.8 1192.1,987.4 1195.3,987.9 1198.5,988.4 1201.8,988.9 1205.0,989.4 1208.2,989.9 1211.4,990.4 1214.7,990.8 1217.9,991.2 1221.1,991.7 1224.3,992.1 1227.6,992.5 1230.8,992.8 1234.0,993.2 1237.3,993.6 1240.5,993.9 1243.7,994.2 1246.9,994.5 1250.2,994.8 1253.4,995.1 1256.6,995.4 1259.8,995.7 1263.1,995.9 1266.3,996.1 1269.5,996.4 1272.7,996.6 1276.0,996.8 1279.2,997.0 1282.4,997.2 1285.7,997.4 1288.9,997.5 1292.1,997.7 1295.3,997.9 1298.6,998.0 1301.8,998.1 1305.0,998.3 1308.2,998.4 1311.5,998.5 1314.7,998.6 1317.9,998.7 1321.2,998.8 1324.4,998.9 1327.6,999.0 1330.8,999.1 1334.1,999.1 1337.3,999.2 1340.5,999.3 1343.7,999.4 1347.0,999.4 1350.2,999.5 1353.4,999.5 1356.7,999.6 1359.9,999.6 1363.1,999.7 1366.3,999.7 1369.6,999.7 1372.8,999.8 1376.0,999.8 1379.2,999.8 1382.5,999.9 1385.7,999.9 1388.9,999.9 1392.1,999.9 1395.4,1000.0 1398.6,1000.0 1401.8,1000.0 1405.1,1000.0 1408.3,1000.0 1411.5,1000.1 1414.7,1000.1 1418.0,1000.1 1421.2,1000.1 1424.4,1000.1 1427.6,1000.1 1430.9,1000.1 1434.1,1000.2 1437.3,1000.2 1440.6,1000.2 1443.8,1000.2 1447.0,1000.2 1450.2,1000.2 1453.5,1000.2 1456.7,1000.2 1459.9,1000.2 1463.1,1000.2 1466.4,1000.2 1469.6,1000.2 1472.8,1000.3 1476.0,1000.3 1479.3,1000.3 1482.5,1000.3 1485.7,1000.3 1489.0,1000.3 1492.2,1000.3 1495.4,1000.3 1498.6,1000.3 1501.9,1000.3 1505.1,1000.3 1508.3,1000.3 1511.5,1000.3 1514.8,1000.3 1518.0,1000.3"/>
<polyline points="227.2,999.5 230.4,999.5 233.7,999.5 236.9,999.5 240.1,999.5 243.3,999.5 246.6,999.5 249.8,999.5 253.0,999.4 256.2,999.4 259.5,999.4 262.7,999.4 265.9,999.4 269.2,999.4 272.4,999.4 275.6,999.4 278.8,999.3 282.1,999.3 285.3,999.3 288.5,999.3 291.7,999.3 295.0,999.2 298.2,999.2 301.4,999.2 304.6,999.2 307.9,999.1 311.1,999.1 314.3,999.0 317.6,999.0 320.8,998.9 324.0,998.9 327.2,998.8 330.5,998.8 333.7,998.7 336.9,998.6 340.1,998.5 343.4,998.4 346.6,998.3 349.8,998.2 353.1,998.1 356.3,998.0 359.5,997.8 362.7,997.6 366.0,997.5 369.2,997.3 372.4,997.0 375.6,996.8 378.9,996.5 382.1,996.2 385.3,995.9 388.5,995.6 391.8,995.2 395.0,994.8 398.2,994.3 401.5,993.9 404.7,993.3 407.9,992.8 411.1,992.2 414.4,991.5 417.6,990.8 420.8,990.0 424.0,989.2 427.3,988.4 430.5,987.4 433.7,986.4 437.0,985.4 440.2,984.3 443.4,983.1 446.6,981.8 449.9,980.5 453.1,979.0 456.3,977.5 459.5,976.0 462.8,974.3 466.0,972.6 469.2,970.8 472.5,968.9 475.7,966.9 478.9,964.8 482.1,962.7 485.4,960.5 488.6,958.2 491.8,955.8 495.0,953.4 498.3,950.9 501.5,948.3 504.7,945.7 507.9,943.0 511.2,940.3 514.4,937.5 517.6,934.7 520.9,931.8 524.1,928.9 527.3,926.0 530.5,923.1 533.8,920.2 537.0,917.3 540.2,914.4 543.4,911.5 546.7,908.7 549.9,905.9 553.1,903.2 556.4,900.5 559.6,897.9 562.8,895.4 566.0,893.0 569.3,890.7 572.5,888.5 575.7,886.4 578.9,884.4 582.2,882.6 585.4,880.9 588.6,879.4 591.9,878.0 595.1,876.9 598.3,875.8 601.5,875.0 604.8,874.3 608.0,873.9 611.2,873.6 614.4,873.4 617.7,873.4 620.9,873.6 624.1,873.8 627.3,874.2 630.6,874.7 633.8,875.3 637.0,876.1 640.3,877.0 643.5,877.9 646.7,879.0 649.9,880.2 653.2,881.5 656.4,882.9 659.6,884.4 662.8,886.0 666.1,887.6 669.3,889.4 672.5,891.2 675.8,893.0 679.0,895.0 682.2,897.0 685.4,899.0 688.7,901.1 691.9,903.2 695.1,905.4 698.3,907.6 701.6,909.8 704.8,912.0 708.0,914.3 711.2,916.5 714.5,918.7 717.7,921.0 720.9,923.2 724.2,925.4 727.4,927.6 730.6,929.7 733.8,931.9 737.1,934.0 740.3,936.0 743.5,938.0 746.7,940.0 750.0,941.9 753.2,943.8 756.4,945.6 759.7,947.4 762.9,949.1 766.1,950.7 769.3,952.3 772.6,953.8 775.8,955.3 779.0,956.7 782.2,958.0 785.5,959.3 788.7,960.5 791.9,961.6 795.2,962.6 798.4,963.6 801.6,964.5 804.8,965.4 808.1,966.2 811.3,966.9 814.5,967.6 817.7,968.2 821.0,968.7 824.2,969.2 827.4,969.6 830.6,970.0 833.9,970.3 837.1,970.5 840.3,970.7 843.6,970.9 846.8,971.0 850.0,971.1 853.2,971.1 856.5,971.1 859.7,971.0 862.9,970.9 866.1,970.8 869.4,970.6 872.6,970.4 875.8,970.2 879.1,970.0 882.3,969.7 885.5,969.4 888.7,969.1 892.0,968.7 895.2,968.4 898.4,968.0 901.6,967.7 904.9,967.3 908.1,966.9 911.3,966.5 914.6,966.1 917.8,965.6 921.0,965.2 924.2,964.8 927.5,964.4 930.7,964.0 933.9,963.6 937.1,963.2 940.4,962.8 943.6,962.4 946.8,962.1 950.0,961.7 953.3,961.3 956.5,961.0 959.7,960.7 963.0,960.4 966.2,960.1 969.4,959.8 972.6,959.6 975.9,959.3 979.1,959.1 982.3,958.9 985.5,958.7 988.8,958.6 992.0,958.5 995.2,958.4 998.5,958.3 1001.7,958.2 1004.9,958.2 1008.1,958.2 1011.4,958.2 1014.6,958.2 1017.8,958.3 1021.0,958.4 1024.3,958.6 1027.5,958.7 1030.7,958.9 1034.0,959.2 1037.2,959.4 1040.4,959.7 1043.6,960.1 1046.9,960.4 1050.1,960.8 1053.3,961.2 1056.5,961.6 1059.8,962.0 1063.0,962.5 1066.2,963.0 1069.4,963.5 1072.7,964.1 1075.9,964.6 1079.1,965.2 1082.4,965.8 1085.6,966.4 1088.8,967.0 1092.0,967.6 1095.3,968.3 1098.5,968.9 1101.7,969.6 1104.9,970.2 1108.2,970.9 1111.4,971.6 1114.6,972.3 1117.9,972.9 1121.1,973.6 1124.3,974.3 1127.5,975.0 1130.8,975.7 1134.0,976.4 1137.2,977.0 1140.4,977.7 1143.7,978.4 1146.9,979.1 1150.1,979.7 1153.3,980.4 1156.6,981.0 1159.8,981.7 1163.0,982.3 1166.3,982.9 1169.5,983.5 1172.7,984.1 1175.9,984.7 1179.2,985.3 1182.4,985.8 1185.6,986.4 1188.8,986.9 1192.1,987.4 1195.3,987.9 1198.5,988.4 1201.8,988.9 1205.0,989.4 1208.2,989.8 1211.4,990.3 1214.7,990.7 1217.9,991.1 1221.1,991.5 1224.3,991.9 1227.6,992.3 1230.8,992.6 1234.0,993.0 1237.3,993.3 1240.5,993.6 1243.7,993.9 1246.9,994.2 1250.2,994.5 1253.4,994.8 1256.6,995.1 1259.8,995.3 1263.1,995.5 1266.3,995.8 1269.5,996.0 1272.7,996.2 1276.0,996.4 1279.2,996.6 1282.4,996.8 1285.7,996.9 1288.9,997.1 1292.1,997.2 1295.3,997.4 1298.6,997.5 1301.8,997.7 1305.0,997.8 1308.2,997.9 1311.5,998.0 1314.7,998.1 1317.9,998.2 1321.2,998.3 1324.4,998.4 1327.6,998.5 1330.8,998.6 1334.1,998.6 1337.3,998.7 1340.5,998.8 1343.7,998.8 1347.0,998.9 1350.2,998.9 1353.4,999.0 1356.7,999.0 1359.9,999.1 1363.1,999.1 1366.3,999.2 1369.6,999.2 1372.8,999.2 1376.0,999.3 1379.2,999.3 1382.5,999.3 1385.7,999.3 1388.9,999.4 1392.1,999.4 1395.4,999.4 1398.6,999.4 1401.8,999.5 1405.1,999.5 1408.3,999.5 1411.5,999.5 1414.7,999.5 1418.0,999.5 1421.2,999.5 1424.4,999.6 1427.6,999.6 1430.9,999.6 1434.1,999.6 1437.3,999.6 1440.6,999.6 1443.8,999.6 1447.0,999.6 1450.2,999.6 1453.5,999.6 1456.7,999.7 1459.9,999.7 1463.1,999.7 1466.4,999.7 1469.6,999.7 1472.8,999.7 1476.0,999.7 1479.3,999.7 1482.5,999.7 1485.7,999.7 1489.0,999.7 1492.2,999.7 1495.4,999.7 1498.6,999.7 1501.9,999.7 1505.1,999.7 1508.3,999.7 1511.5,999.7 1514.8,999.7 1518.0,999.7"/>
<polyline points="227.2,999.8 230.4,999.8 233.7,999.8 236.9,999.8 240.1,999.8 243.3,999.7 246.6,999.7 249.8,999.7 253.0,999.7 256.2,999.7 259.5,999.7 262.7,999.7 265.9,999.7 269.2,999.7 272.4,999.7 275.6,999.6 278.8,999.6 282.1,999.6 285.3,999.6 288.5,999.6 291.7,999.6 295.0,999.5 298.2,999.5 301.4,999.5 304.6,999.5 307.9,999.4 311.1,999.4 314.3,999.4 317.6,999.3 320.8,999.3 324.0,999.2 327.2,999.2 330.5,999.1 333.7,999.1 336.9,999.0 340.1,998.9 343.4,998.8 346.6,998.7 349.8,998.6 353.1,998.5 356.3,998.4 359.5,998.2 362.7,998.1 366.0,997.9 369.2,997.7 372.4,997.5 375.6,997.3 378.9,997.1 382.1,996.8 385.3,996.5 388.5,996.2 391.8,995.9 395.0,995.5 398.2,995.1 401.5,994.7 404.7,994.2 407.9,993.7 411.1,993.1 414.4,992.6 417.6,991.9 420.8,991.3 424.0,990.5 427.3,989.8 430.5,989.0 433.7,988.1 437.0,987.1 440.2,986.2 443.4,985.1 446.6,984.0 449.9,982.8 453.1,981.6 456.3,980.3 459.5,978.9 462.8,977.4 466.0,975.9 469.2,974.4 472.5,972.7 475.7,971.0 478.9,969.2 482.1,967.3 485.4,965.4 488.6,963.4 491.8,961.3 495.0,959.2 498.3,957.0 501.5,954.8 504.7,952.5 507.9,950.2 511.2,947.8 514.4,945.4 517.6,942.9 520.9,940.4 524.1,937.9 527.3,935.4 530.5,932.8 533.8,930.3 537.0,927.7 540.2,925.2 543.4,922.6 546.7,920.1 549.9,917.7 553.1,915.2 556.4,912.9 559.6,910.5 562.8,908.3 566.0,906.1 569.3,904.0 572.5,902.0 575.7,900.1 578.9,898.3 582.2,896.6 585.4,895.0 588.6,893.5 591.9,892.2 595.1,891.1 598.3,890.0 601.5,889.1 604.8,888.4 608.0,887.8 611.2,887.4 614.4,887.1 617.7,887.0 620.9,887.0 624.1,887.1 627.3,887.3 630.6,887.7 633.8,888.1 637.0,888.6 640.3,889.3 643.5,890.0 646.7,890.9 649.9,891.8 653.2,892.8 656.4,894.0 659.6,895.2 662.8,896.4 666.1,897.8 669.3,899.2 672.5,900.7 675.8,902.3 679.0,903.9 682.2,905.6 685.4,907.3 688.7,909.1 691.9,910.9 695.1,912.8 698.3,914.6 701.6,916.5 704.8,918.5 708.0,920.4 711.2,922.3 714.5,924.3 717.7,926.2 720.9,928.2 724.2,930.1 727.4,932.0 730.6,933.9 733.8,935.8 737.1,937.6 740.3,939.5 743.5,941.3 746.7,943.0 750.0,944.8 753.2,946.4 756.4,948.1 759.7,949.7 762.9,951.2 766.1,952.7 769.3,954.1 772.6,955.5 775.8,956.9 779.0,958.2 782.2,959.4 785.5,960.5 788.7,961.6 791.9,962.7 795.2,963.7 798.4,964.6 801.6,965.5 804.8,966.3 808.1,967.1 811.3,967.8 814.5,968.4 817.7,969.0 821.0,969.5 824.2,970.0 827.4,970.5 830.6,970.8 833.9,971.2 837.1,971.4 840.3,971.7 843.6,971.9 846.8,972.0 850.0,972.1 853.2,972.2 856.5,972.2 859.7,972.2 862.9,972.2 866.1,972.1 869.4,972.0 872.6,971.9 875.8,971.7 879.1,971.5 882.3,971.3 885.5,971.1 888.7,970.8 892.0,970.5 895.2,970.3 898.4,970.0 901.6,969.6 904.9,969.3 908.1,969.0 911.3,968.7 914.6,968.3 917.8,968.0 921.0,967.6 924.2,967.2 927.5,966.9 930.7,966.5 933.9,966.2 937.1,965.8 940.4,965.5 943.6,965.1 946.8,964.8 950.0,964.5 953.3,964.2 956.5,963.9 959.7,963.6 963.0,963.3 966.2,963.1 969.4,962.8 972.6,962.6 975.9,962.4 979.1,962.2 982.3,962.0 985.5,961.8 988.8,961.7 992.0,961.5 995.2,961.4 998.5,961.3 1001.7,961.3 1004.9,961.2 1008.1,961.2 1011.4,961.2 1014.6,961.2 1017.8,961.3 1021.0,961.3 1024.3,961.4 1027.5,961.6 1030.7,961.7 1034.0,961.9 1037.2,962.1 1040.4,962.4 1043.6,962.6 1046.9,962.9 1050.1,963.2 1053.3,963.6 1056.5,963.9 1059.8,964.3 1063.0,964.7 1066.2,965.2 1069.4,965.6 1072.7,966.1 1075.9,966.6 1079.1,967.1 1082.4,967.6 1085.6,968.1 1088.8,968.7 1092.0,969.2 1095.3,969.8 1098.5,970.4 1101.7,971.0 1104.9,971.6 1108.2,972.2 1111.4,972.8 1114.6,973.4 1117.9,974.0 1121.1,974.7 1124.3,975.3 1127.5,975.9 1130.8,976.6 1134.0,977.2 1137.2,977.8 1140.4,978.4 1143.7,979.1 1146.9,979.7 1150.1,980.3 1153.3,980.9 1156.6,981.5 1159.8,982.1 1163.0,982.7 1166.3,983.3 1169.5,983.9 1172.7,984.4 1175.9,985.0 1179.2,985.5 1182.4,986.1 1185.6,986.6 1188.8,987.1 1192.1,987.6 1195.3,988.1 1198.5,988.6 1201.8,989.1 1205.0,989.5 1208.2,990.0 1211.4,990.4 1214.7,990.8 1217.9,991.2 1221.1,991.6 1224.3,992.0 1227.6,992.4 1230.8,992.7 1234.0,993.1 1237.3,993.4 1240.5,993.7 1243.7,994.0 1246.9,994.3 1250.2,994.6 1253.4,994.9 1256.6,995.1 1259.8,995.4 1263.1,995.6 1266.3,995.9 1269.5,996.1 1272.7,996.3 1276.0,996.5 1279.2,996.7 1282.4,996.9 1285.7,997.0 1288.9,997.2 1292.1,997.4 1295.3,997.5 1298.6,997.7 1301.8,997.8 1305.0,997.9 1308.2,998.1 1311.5,998.2 1314.7,998.3 1317.9,998.4 1321.2,998.5 1324.4,998.6 1327.6,998.7 1330.8,998.7 1334.1,998.8 1337.3,998.9 1340.5,999.0 1343.7,999.0 1347.0,999.1 1350.2,999.1 1353.4,999.2 1356.7,999.2 1359.9,999.3 1363.1,999.3 1366.3,999.4 1369.6,999.4 1372.8,999.5 1376.0,999.5 1379.2,999.5 1382.5,999.5 1385.7,999.6 1388.9,999.6 1392.1,999.6 1395.4,999.6 1398.6,999.7 1401.8,999.7 1405.1,999.7 1408.3,999.7 1411.5,999.7 1414.7,999.8 1418.0,999.8 1421.2,999.8 1424.4,999.8 1427.6,999.8 1430.9,999.8 1434.1,999.8 1437.3,999.8 1440.6,999.8 1443.8,999.9 1447.0,999.9 1450.2,999.9 1453.5,999.9 1456.7,999.9 1459.9,999.9 1463.1,999.9 1466.4,999.9 1469.6,999.9 1472.8,999.9 1476.0,999.9 1479.3,999.9 1482.5,999.9 1485.7,999.9 1489.0,999.9 1492.2,999.9 1495.4,999.9 1498.6,999.9 1501.9,1000.0 1505.1,1000.0 1508.3,1000.0 1511.5,1000.0 1514.8,1000.0 1518.0,1000.0"/>
<polyline points="227.2,999.0 230.4,998.9 233.7,998.9 236.9,998.9 240.1,998.9 243.3,998.9 246.6,998.9 249.8,998.9 253.0,998.9 256.2,998.9 259.5,998.9 262.7,998.9 265.9,998.9 269.2,998.9 272.4,998.8 275.6,998.8 278.8,998.8 282.1,998.8 285.3,998.8 288.5,998.8 291.7,998.8 295.0,998.7 298.2,998.7 301.4,998.7 304.6,998.7 307.9,998.6 311.1,998.6 314.3,998.6 317.6,998.5 320.8,998.5 324.0,998.4 327.2,998.4 330.5,998.3 333.7,998.3 336.9,998.2 340.1,998.1 343.4,998.0 346.6,997.9 349.8,997.8 353.1,997.7 356.3,997.6 359.5,997.5 362.7,997.3 366.0,997.2 369.2,997.0 372.4,996.8 375.6,996.6 378.9,996.4 382.1,996.1 385.3,995.8 388.5,995.6 391.8,995.2 395.0,994.9 398.2,994.5 401.5,994.1 404.7,993.7 407.9,993.2 411.1,992.7 414.4,992.2 417.6,991.6 420.8,990.9 424.0,990.3 427.3,989.6 430.5,988.8 433.7,988.0 437.0,987.1 440.2,986.2 443.4,985.2 446.6,984.2 449.9,983.1 453.1,982.0 456.3,980.8 459.5,979.5 462.8,978.2 466.0,976.8 469.2,975.4 472.5,973.9 475.7,972.3 478.9,970.6 482.1,968.9 485.4,967.2 488.6,965.3 491.8,963.5 495.0,961.5 498.3,959.5 501.5,957.5 504.7,955.4 507.9,953.2 511.2,951.0 514.4,948.8 517.6,946.6 520.9,944.3 524.1,942.0 527.3,939.6 530.5,937.3 533.8,934.9 537.0,932.6 540.2,930.2 543.4,927.9 546.7,925.6 549.9,923.3 553.1,921.0 556.4,918.8 559.6,916.6 562.8,914.5 566.0,912.4 569.3,910.4 572.5,908.5 575.7,906.7 578.9,904.9 582.2,903.3 585.4,901.8 588.6,900.3 591.9,899.0 595.1,897.8 598.3,896.7 601.5,895.8 604.8,895.0 608.0,894.3 611.2,893.8 614.4,893.4 617.7,893.1 620.9,893.0 624.1,893.0 627.3,893.1 630.6,893.3 633.8,893.6 637.0,894.0 640.3,894.5 643.5,895.1 646.7,895.8 649.9,896.5 653.2,897.4 656.4,898.3 659.6,899.3 662.8,900.4 666.1,901.6 669.3,902.8 672.5,904.2 675.8,905.5 679.0,907.0 682.2,908.4 685.4,910.0 688.7,911.5 691.9,913.2 695.1,914.8 698.3,916.5 701.6,918.2 704.8,919.9 708.0,921.7 711.2,923.5 714.5,925.3 717.7,927.0 720.9,928.8 724.2,930.6 727.4,932.4 730.6,934.2 733.8,935.9 737.1,937.6 740.3,939.4 743.5,941.0 746.7,942.7 750.0,944.3 753.2,945.9 756.4,947.5 759.7,949.0 762.9,950.5 766.1,951.9 769.3,953.3 772.6,954.7 775.8,956.0 779.0,957.2 782.2,958.5 785.5,959.6 788.7,960.7 791.9,961.8 795.2,962.8 798.4,963.7 801.6,964.6 804.8,965.4 808.1,966.2 811.3,966.9 814.5,967.6 817.7,968.3 821.0,968.8 824.2,969.4 827.4,969.9 830.6,970.3 833.9,970.7 837.1,971.0 840.3,971.3 843.6,971.6 846.8,971.8 850.0,972.0 853.2,972.1 856.5,972.2 859.7,972.3 862.9,972.3 866.1,972.3 869.4,972.3 872.6,972.2 875.8,972.1 879.1,972.0 882.3,971.9 885.5,971.7 888.7,971.6 892.0,971.4 895.2,971.2 898.4,970.9 901.6,970.7 904.9,970.4 908.1,970.2 911.3,969.9 914.6,969.6 917.8,969.3 921.0,969.1 924.2,968.8 927.5,968.5 930.7,968.2 933.9,967.9 937.1,967.6 940.4,967.3 943.6,967.0 946.8,966.7 950.0,966.4 953.3,966.2 956.5,965.9 959.7,965.7 963.0,965.4 966.2,965.2 969.4,965.0 972.6,964.8 975.9,964.6 979.1,964.4 982.3,964.2 985.5,964.1 988.8,963.9 992.0,963.8 995.2,963.7 998.5,963.6 1001.7,963.6 1004.9,963.5 1008.1,963.5 1011.4,963.5 1014.6,963.5 1017.8,963.5 1021.0,963.5 1024.3,963.6 1027.5,963.7 1030.7,963.8 1034.0,964.0 1037.2,964.1 1040.4,964.3 1043.6,964.6 1046.9,964.8 1050.1,965.1 1053.3,965.4 1056.5,965.7 1059.8,966.0 1063.0,966.3 1066.2,966.7 1069.4,967.1 1072.7,967.5 1075.9,967.9 1079.1,968.4 1082.4,968.8 1085.6,969.3 1088.8,969.8 1092.0,970.3 1095.3,970.8 1098.5,971.3 1101.7,971.8 1104.9,972.3 1108.2,972.9 1111.4,973.4 1114.6,974.0 1117.9,974.6 1121.1,975.1 1124.3,975.7 1127.5,976.3 1130.8,976.8 1134.0,977.4 1137.2,978.0 1140.4,978.6 1143.7,979.1 1146.9,979.7 1150.1,980.3 1153.3,980.8 1156.6,981.4 1159.8,981.9 1163.0,982.5 1166.3,983.0 1169.5,983.6 1172.7,984.1 1175.9,984.6 1179.2,985.1 1182.4,985.6 1185.6,986.1 1188.8,986.6 1192.1,987.1 1195.3,987.5 1198.5,988.0 1201.8,988.4 1205.0,988.9 1208.2,989.3 1211.4,989.7 1214.7,990.1 1217.9,990.5 1221.1,990.9 1224.3,991.2 1227.6,991.6 1230.8,991.9 1234.0,992.3 1237.3,992.6 1240.5,992.9 1243.7,993.2 1246.9,993.5 1250.2,993.8 1253.4,994.0 1256.6,994.3 1259.8,994.5 1263.1,994.8 1266.3,995.0 1269.5,995.2 1272.7,995.4 1276.0,995.6 1279.2,995.8 1282.4,996.0 1285.7,996.2 1288.9,996.3 1292.1,996.5 1295.3,996.6 1298.6,996.8 1301.8,996.9 1305.0,997.0 1308.2,997.2 1311.5,997.3 1314.7,997.4 1317.9,997.5 1321.2,997.6 1324.4,997.7 1327.6,997.8 1330.8,997.9 1334.1,997.9 1337.3,998.0 1340.5,998.1 1343.7,998.2 1347.0,998.2 1350.2,998.3 1353.4,998.3 1356.7,998.4 1359.9,998.4 1363.1,998.5 1366.3,998.5 1369.6,998.6 1372.8,998.6 1376.0,998.6 1379.2,998.7 1382.5,998.7 1385.7,998.7 1388.9,998.8 1392.1,998.8 1395.4,998.8 1398.6,998.8 1401.8,998.8 1405.1,998.9 1408.3,998.9 1411.5,998.9 1414.7,998.9 1418.0,998.9 1421.2,998.9 1424.4,999.0 1427.6,999.0 1430.9,999.0 1434.1,999.0 1437.3,999.0 1440.6,999.0 1443.8,999.0 1447.0,999.0 1450.2,999.0 1453.5,999.0 1456.7,999.0 1459.9,999.0 1463.1,999.1 1466.4,999.1 1469.6,999.1 1472.8,999.1 1476.0,999.1 1479.3,999.1 1482.5,999.1 1485.7,999.1 1489.0,999.1 1492.2,999.1 1495.4,999.1 1498.6,999.1 1501.9,999.1 1505.1,999.1 1508.3,999.1 1511.5,999.1 1514.8,999.1 1518.0,999.1"/>
<polyline points="227.2,998.1 230.4,998.1 233.7,998.1 236.9,998.1 240.1,998.1 243.3,998.1 246.6,998.1 249.8,998.1 253.0,998.1 256.2,998.1 259.5,998.1 262.7,998.1 265.9,998.1 269.2,998.1 272.4,998.0 275.6,998.0 278.8,998.0 282.1,998.0 285.3,998.0 288.5,998.0 291.7,998.0 295.0,997.9 298.2,997.9 301.4,997.9 304.6,997.9 307.9,997.8 311.1,997.8 314.3,997.8 317.6,997.7 320.8,997.7 324.0,997.7 327.2,997.6 330.5,997.6 333.7,997.5 336.9,997.4 340.1,997.4 343.4,997.3 346.6,997.2 349.8,997.1 353.1,997.0 356.3,996.9 359.5,996.7 362.7,996.6 366.0,996.4 369.2,996.3 372.4,996.1 375.6,995.9 378.9,995.7 382.1,995.4 385.3,995.2 388.5,994.9 391.8,994.6 395.0,994.3 398.2,993.9 401.5,993.5 404.7,993.1 407.9,992.7 411.1,992.2 414.4,991.7 417.6,991.1 420.8,990.5 424.0,989.9 427.3,989.2 430.5,988.5 433.7,987.8 437.0,987.0 440.2,986.1 443.4,985.2 446.6,984.2 449.9,983.2 453.1,982.2 456.3,981.1 459.5,979.9 462.8,978.6 466.0,977.4 469.2,976.0 472.5,974.6 475.7,973.1 478.9,971.6 482.1,970.0 485.4,968.4 488.6,966.7 491.8,965.0 495.0,963.2 498.3,961.3 501.5,959.4 504.7,957.5 507.9,955.5 511.2,953.5 514.4,951.4 517.6,949.3 520.9,947.2 524.1,945.0 527.3,942.9 530.5,940.7 533.8,938.5 537.0,936.3 540.2,934.1 543.4,931.9 546.7,929.7 549.9,927.6 553.1,925.4 556.4,923.3 559.6,921.3 562.8,919.3 566.0,917.3 569.3,915.4 572.5,913.6 575.7,911.8 578.9,910.1 582.2,908.5 585.4,907.0 588.6,905.6 591.9,904.3 595.1,903.1 598.3,902.0 601.5,901.0 604.8,900.1 608.0,899.4 611.2,898.7 614.4,898.2 617.7,897.9 620.9,897.7 624.1,897.5 627.3,897.5 630.6,897.6 633.8,897.8 637.0,898.1 640.3,898.5 643.5,898.9 646.7,899.4 649.9,900.1 653.2,900.8 656.4,901.6 659.6,902.4 662.8,903.3 666.1,904.4 669.3,905.4 672.5,906.6 675.8,907.8 679.0,909.0 682.2,910.3 685.4,911.7 688.7,913.1 691.9,914.6 695.1,916.1 698.3,917.6 701.6,919.2 704.8,920.7 708.0,922.3 711.2,924.0 714.5,925.6 717.7,927.3 720.9,928.9 724.2,930.6 727.4,932.2 730.6,933.9 733.8,935.5 737.1,937.2 740.3,938.8 743.5,940.4 746.7,942.0 750.0,943.5 753.2,945.1 756.4,946.6 759.7,948.0 762.9,949.5 766.1,950.9 769.3,952.2 772.6,953.5 775.8,954.8 779.0,956.1 782.2,957.2 785.5,958.4 788.7,959.5 791.9,960.5 795.2,961.6 798.4,962.5 801.6,963.4 804.8,964.3 808.1,965.1 811.3,965.9 814.5,966.6 817.7,967.3 821.0,967.9 824.2,968.5 827.4,969.0 830.6,969.5 833.9,969.9 837.1,970.4 840.3,970.7 843.6,971.0 846.8,971.3 850.0,971.6 853.2,971.8 856.5,971.9 859.7,972.1 862.9,972.2 866.1,972.3 869.4,972.3 872.6,972.3 875.8,972.3 879.1,972.3 882.3,972.2 885.5,972.1 888.7,972.0 892.0,971.9 895.2,971.8 898.4,971.6 901.6,971.4 904.9,971.2 908.1,971.0 911.3,970.8 914.6,970.6 917.8,970.4 921.0,970.2 924.2,969.9 927.5,969.7 930.7,969.4 933.9,969.2 937.1,969.0 940.4,968.7 943.6,968.5 946.8,968.2 950.0,968.0 953.3,967.8 956.5,967.6 959.7,967.3 963.0,967.1 966.2,966.9 969.4,966.7 972.6,966.5 975.9,966.4 979.1,966.2 982.3,966.1 985.5,965.9 988.8,965.8 992.0,965.7 995.2,965.6 998.5,965.5 1001.7,965.5 1004.9,965.4 1008.1,965.4 1011.4,965.3 1014.6,965.3 1017.8,965.3 1021.0,965.4 1024.3,965.4 1027.5,965.5 1030.7,965.6 1034.0,965.7 1037.2,965.9 1040.4,966.0 1043.6,966.2 1046.9,966.4 1050.1,966.6 1053.3,966.9 1056.5,967.1 1059.8,967.4 1063.0,967.7 1066.2,968.0 1069.4,968.4 1072.7,968.7 1075.9,969.1 1079.1,969.5 1082.4,969.9 1085.6,970.3 1088.8,970.7 1092.0,971.1 1095.3,971.6 1098.5,972.0 1101.7,972.5 1104.9,973.0 1108.2,973.5 1111.4,974.0 1114.6,974.5 1117.9,975.0 1121.1,975.5 1124.3,976.0 1127.5,976.5 1130.8,977.0 1134.0,977.6 1137.2,978.1 1140.4,978.6 1143.7,979.1 1146.9,979.7 1150.1,980.2 1153.3,980.7 1156.6,981.2 1159.8,981.7 1163.0,982.2 1166.3,982.7 1169.5,983.2 1172.7,983.7 1175.9,984.2 1179.2,984.7 1182.4,985.2 1185.6,985.6 1188.8,986.1 1192.1,986.5 1195.3,987.0 1198.5,987.4 1201.8,987.8 1205.0,988.2 1208.2,988.6 1211.4,989.0 1214.7,989.4 1217.9,989.8 1221.1,990.1 1224.3,990.5 1227.6,990.8 1230.8,991.2 1234.0,991.5 1237.3,991.8 1240.5,992.1 1243.7,992.4 1246.9,992.7 1250.2,992.9 1253.4,993.2 1256.6,993.4 1259.8,993.7 1263.1,993.9 1266.3,994.1 1269.5,994.4 1272.7,994.6 1276.0,994.8 1279.2,994.9 1282.4,995.1 1285.7,995.3 1288.9,995.5 1292.1,995.6 1295.3,995.8 1298.6,995.9 1301.8,996.1 1305.0,996.2 1308.2,996.3 1311.5,996.4 1314.7,996.5 1317.9,996.6 1321.2,996.7 1324.4,996.8 1327.6,996.9 1330.8,997.0 1334.1,997.1 1337.3,997.2 1340.5,997.2 1343.7,997.3 1347.0,997.4 1350.2,997.4 1353.4,997.5 1356.7,997.5 1359.9,997.6 1363.1,997.6 1366.3,997.7 1369.6,997.7 1372.8,997.8 1376.0,997.8 1379.2,997.8 1382.5,997.9 1385.7,997.9 1388.9,997.9 1392.1,997.9 1395.4,998.0 1398.6,998.0 1401.8,998.0 1405.1,998.0 1408.3,998.0 1411.5,998.1 1414.7,998.1 1418.0,998.1 1421.2,998.1 1424.4,998.1 1427.6,998.1 1430.9,998.1 1434.1,998.2 1437.3,998.2 1440.6,998.2 1443.8,998.2 1447.0,998.2 1450.2,998.2 1453.5,998.2 1456.7,998.2 1459.9,998.2 1463.1,998.2 1466.4,998.2 1469.6,998.2 1472.8,998.2 1476.0,998.2 1479.3,998.2 1482.5,998.2 1485.7,998.3 1489.0,998.3 1492.2,998.3 1495.4,998.3 1498.6,998.3 1501.9,998.3 1505.1,998.3 1508.3,998.3 1511.5,998.3 1514.8,998.3 1518.0,998.3"/>
<polyline points="227.2,997.1 230.4,997.1 233.7,997.1 236.9,997.1 240.1,997.1 243.3,997.1 246.6,997.1 249.8,997.1 253.0,997.1 256.2,997.1 259.5,997.1 262.7,997.1 265.9,997.1 269.2,997.1 272.4,997.1 275.6,997.0 278.8,997.0 282.1,997.0 285.3,997.0 288.5,997.0 291.7,997.0 295.0,997.0 298.2,996.9 301.4,996.9 304.6,996.9 307.9,996.9 311.1,996.8 314.3,996.8 317.6,996.8 320.8,996.7 324.0,996.7 327.2,996.6 330.5,996.6 333.7,996.5 336.9,996.5 340.1,996.4 343.4,996.3 346.6,996.2 349.8,996.1 353.1,996.0 356.3,995.9 359.5,995.8 362.7,995.6 366.0,995.5 369.2,995.3 372.4,995.1 375.6,994.9 378.9,994.7 382.1,994.5 385.3,994.2 388.5,994.0 391.8,993.7 395.0,993.4 398.2,993.0 401.5,992.6 404.7,992.2 407.9,991.8 411.1,991.3 414.4,990.8 417.6,990.3 420.8,989.7 424.0,989.1 427.3,988.5 430.5,987.8 433.7,987.0 437.0,986.2 440.2,985.4 443.4,984.5 446.6,983.6 449.9,982.6 453.1,981.6 456.3,980.5 459.5,979.3 462.8,978.1 466.0,976.9 469.2,975.6 472.5,974.2 475.7,972.8 478.9,971.3 482.1,969.7 485.4,968.1 488.6,966.5 491.8,964.8 495.0,963.0 498.3,961.2 501.5,959.4 504.7,957.5 507.9,955.6 511.2,953.6 514.4,951.6 517.6,949.5 520.9,947.5 524.1,945.4 527.3,943.3 530.5,941.1 533.8,939.0 537.0,936.8 540.2,934.7 543.4,932.6 546.7,930.5 549.9,928.3 553.1,926.3 556.4,924.2 559.6,922.2 562.8,920.3 566.0,918.3 569.3,916.5 572.5,914.7 575.7,913.0 578.9,911.3 582.2,909.8 585.4,908.3 588.6,906.9 591.9,905.6 595.1,904.4 598.3,903.4 601.5,902.4 604.8,901.6 608.0,900.8 611.2,900.2 614.4,899.7 617.7,899.4 620.9,899.2 624.1,899.1 627.3,899.1 630.6,899.1 633.8,899.3 637.0,899.6 640.3,899.9 643.5,900.4 646.7,900.9 649.9,901.5 653.2,902.2 656.4,903.0 659.6,903.8 662.8,904.7 666.1,905.7 669.3,906.7 672.5,907.8 675.8,909.0 679.0,910.2 682.2,911.5 685.4,912.9 688.7,914.2 691.9,915.7 695.1,917.1 698.3,918.6 701.6,920.1 704.8,921.7 708.0,923.2 711.2,924.8 714.5,926.4 717.7,928.0 720.9,929.6 724.2,931.3 727.4,932.9 730.6,934.5 733.8,936.1 737.1,937.7 740.3,939.3 743.5,940.9 746.7,942.4 750.0,943.9 753.2,945.4 756.4,946.9 759.7,948.3 762.9,949.7 766.1,951.1 769.3,952.4 772.6,953.7 775.8,955.0 779.0,956.2 782.2,957.4 785.5,958.5 788.7,959.6 791.9,960.6 795.2,961.6 798.4,962.6 801.6,963.5 804.8,964.3 808.1,965.1 811.3,965.9 814.5,966.6 817.7,967.3 821.0,967.9 824.2,968.5 827.4,969.0 830.6,969.5 833.9,970.0 837.1,970.4 840.3,970.7 843.6,971.1 846.8,971.4 850.0,971.6 853.2,971.8 856.5,972.0 859.7,972.2 862.9,972.3 866.1,972.4 869.4,972.4 872.6,972.4 875.8,972.5 879.1,972.4 882.3,972.4 885.5,972.3 888.7,972.2 892.0,972.1 895.2,972.0 898.4,971.9 901.6,971.7 904.9,971.6 908.1,971.4 911.3,971.2 914.6,971.0 917.8,970.8 921.0,970.6 924.2,970.4 927.5,970.1 930.7,969.9 933.9,969.7 937.1,969.5 940.4,969.2 943.6,969.0 946.8,968.8 950.0,968.6 953.3,968.4 956.5,968.2 959.7,968.0 963.0,967.8 966.2,967.6 969.4,967.4 972.6,967.2 975.9,967.1 979.1,966.9 982.3,966.8 985.5,966.6 988.8,966.5 992.0,966.4 995.2,966.3 998.5,966.3 1001.7,966.2 1004.9,966.2 1008.1,966.1 1011.4,966.1 1014.6,966.1 1017.8,966.1 1021.0,966.1 1024.3,966.2 1027.5,966.2 1030.7,966.3 1034.0,966.4 1037.2,966.6 1040.4,966.7 1043.6,966.9 1046.9,967.1 1050.1,967.3 1053.3,967.5 1056.5,967.8 1059.8,968.0 1063.0,968.3 1066.2,968.6 1069.4,968.9 1072.7,969.3 1075.9,969.6 1079.1,970.0 1082.4,970.3 1085.6,970.7 1088.8,971.1 1092.0,971.6 1095.3,972.0 1098.5,972.4 1101.7,972.9 1104.9,973.3 1108.2,973.8 1111.4,974.2 1114.6,974.7 1117.9,975.2 1121.1,975.7 1124.3,976.2 1127.5,976.6 1130.8,977.1 1134.0,977.6 1137.2,978.1 1140.4,978.6 1143.7,979.1 1146.9,979.6 1150.1,980.1 1153.3,980.6 1156.6,981.1 1159.8,981.6 1163.0,982.1 1166.3,982.5 1169.5,983.0 1172.7,983.5 1175.9,983.9 1179.2,984.4 1182.4,984.8 1185.6,985.3 1188.8,985.7 1192.1,986.1 1195.3,986.5 1198.5,986.9 1201.8,987.3 1205.0,987.7 1208.2,988.1 1211.4,988.5 1214.7,988.8 1217.9,989.2 1221.1,989.5 1224.3,989.9 1227.6,990.2 1230.8,990.5 1234.0,990.8 1237.3,991.1 1240.5,991.4 1243.7,991.7 1246.9,991.9 1250.2,992.2 1253.4,992.4 1256.6,992.7 1259.8,992.9 1263.1,993.1 1266.3,993.3 1269.5,993.5 1272.7,993.7 1276.0,993.9 1279.2,994.1 1282.4,994.3 1285.7,994.4 1288.9,994.6 1292.1,994.8 1295.3,994.9 1298.6,995.0 1301.8,995.2 1305.0,995.3 1308.2,995.4 1311.5,995.5 1314.7,995.6 1317.9,995.7 1321.2,995.8 1324.4,995.9 1327.6,996.0 1330.8,996.1 1334.1,996.2 1337.3,996.2 1340.5,996.3 1343.7,996.4 1347.0,996.4 1350.2,996.5 1353.4,996.5 1356.7,996.6 1359.9,996.6 1363.1,996.7 1366.3,996.7 1369.6,996.8 1372.8,996.8 1376.0,996.8 1379.2,996.9 1382.5,996.9 1385.7,996.9 1388.9,996.9 1392.1,997.0 1395.4,997.0 1398.6,997.0 1401.8,997.0 1405.1,997.0 1408.3,997.1 1411.5,997.1 1414.7,997.1 1418.0,997.1 1421.2,997.1 1424.4,997.1 1427.6,997.1 1430.9,997.2 1434.1,997.2 1437.3,997.2 1440.6,997.2 1443.8,997.2 1447.0,997.2 1450.2,997.2 1453.5,997.2 1456.7,997.2 1459.9,997.2 1463.1,997.2 1466.4,997.2 1469.6,997.2 1472.8,997.2 1476.0,997.2 1479.3,997.3 1482.5,997.3 1485.7,997.3 1489.0,997.3 1492.2,997.3 1495.4,997.3 1498.6,997.3 1501.9,997.3 1505.1,997.3 1508.3,997.3 1511.5,997.3 1514.8,997.3 1518.0,997.3"/>
<polyline points="227.2,1000.1 230.4,1000.0 233.7,1000.0 236.9,1000.0 240.1,1000.0 243.3,1000.0 246.6,1000.0 249.8,1000.0 253.0,1000.0 256.2,1000.0 259.5,1000.0 262.7,1000.0 265.9,1000.0 269.2,1000.0 272.4,1000.0 275.6,1000.0 278.8,999.9 282.1,999.9 285.3,999.9 288.5,999.9 291.7,999.9 295.0,999.9 298.2,999.8 301.4,999.8 304.6,999.8 307.9,999.8 311.1,999.7 314.3,999.7 317.6,999.7 320.8,999.6 324.0,999.6 327.2,999.5 330.5,999.5 333.7,999.4 336.9,999.3 340.1,999.3 343.4,999.2 346.6,999.1 349.8,999.0 353.1,998.9 356.3,998.8 359.5,998.7 362.7,998.5 366.0,998.4 369.2,998.2 372.4,998.0 375.6,997.8 378.9,997.6 382.1,997.4 385.3,997.1 388.5,996.8 391.8,996.5 395.0,996.2 398.2,995.8 401.5,995.5 404.7,995.1 407.9,994.6 411.1,994.2 414.4,993.6 417.6,993.1 420.8,992.5 424.0,991.9 427.3,991.3 430.5,990.6 433.7,989.8 437.0,989.0 440.2,988.2 443.4,987.3 446.6,986.4 449.9,985.4 453.1,984.4 456.3,983.3 459.5,982.2 462.8,981.0 466.0,979.7 469.2,978.4 472.5,977.1 475.7,975.7 478.9,974.2 482.1,972.7 485.4,971.1 488.6,969.5 491.8,967.8 495.0,966.0 498.3,964.2 501.5,962.4 504.7,960.5 507.9,958.6 511.2,956.7 514.4,954.7 517.6,952.6 520.9,950.6 524.1,948.5 527.3,946.4 530.5,944.3 533.8,942.1 537.0,940.0 540.2,937.9 543.4,935.7 546.7,933.6 549.9,931.5 553.1,929.4 556.4,927.3 559.6,925.3 562.8,923.3 566.0,921.4 569.3,919.5 572.5,917.7 575.7,915.9 578.9,914.2 582.2,912.6 585.4,911.0 588.6,909.6 591.9,908.2 595.1,907.0 598.3,905.8 601.5,904.8 604.8,903.8 608.0,903.0 611.2,902.3 614.4,901.7 617.7,901.2 620.9,900.9 624.1,900.7 627.3,900.6 630.6,900.6 633.8,900.7 637.0,900.8 640.3,901.1 643.5,901.4 646.7,901.9 649.9,902.4 653.2,903.0 656.4,903.6 659.6,904.4 662.8,905.2 666.1,906.1 669.3,907.1 672.5,908.1 675.8,909.2 679.0,910.3 682.2,911.5 685.4,912.8 688.7,914.1 691.9,915.4 695.1,916.8 698.3,918.3 701.6,919.7 704.8,921.2 708.0,922.7 711.2,924.3 714.5,925.8 717.7,927.4 720.9,929.0 724.2,930.6 727.4,932.2 730.6,933.8 733.8,935.4 737.1,937.0 740.3,938.5 743.5,940.1 746.7,941.7 750.0,943.2 753.2,944.7 756.4,946.2 759.7,947.6 762.9,949.0 766.1,950.4 769.3,951.8 772.6,953.1 775.8,954.4 779.0,955.6 782.2,956.9 785.5,958.0 788.7,959.1 791.9,960.2 795.2,961.3 798.4,962.2 801.6,963.2 804.8,964.1 808.1,964.9 811.3,965.7 814.5,966.5 817.7,967.2 821.0,967.9 824.2,968.5 827.4,969.1 830.6,969.6 833.9,970.1 837.1,970.6 840.3,971.0 843.6,971.3 846.8,971.7 850.0,972.0 853.2,972.2 856.5,972.4 859.7,972.6 862.9,972.8 866.1,972.9 869.4,973.0 872.6,973.0 875.8,973.1 879.1,973.1 882.3,973.1 885.5,973.0 888.7,973.0 892.0,972.9 895.2,972.8 898.4,972.7 901.6,972.5 904.9,972.4 908.1,972.2 911.3,972.0 914.6,971.8 917.8,971.6 921.0,971.4 924.2,971.2 927.5,971.0 930.7,970.8 933.9,970.6 937.1,970.4 940.4,970.1 943.6,969.9 946.8,969.7 950.0,969.5 953.3,969.2 956.5,969.0 959.7,968.8 963.0,968.6 966.2,968.4 969.4,968.3 972.6,968.1 975.9,967.9 979.1,967.8 982.3,967.6 985.5,967.5 988.8,967.4 992.0,967.2 995.2,967.1 998.5,967.1 1001.7,967.0 1004.9,966.9 1008.1,966.9 1011.4,966.9 1014.6,966.8 1017.8,966.8 1021.0,966.9 1024.3,966.9 1027.5,967.0 1030.7,967.0 1034.0,967.1 1037.2,967.3 1040.4,967.4 1043.6,967.6 1046.9,967.8 1050.1,968.0 1053.3,968.2 1056.5,968.4 1059.8,968.7 1063.0,969.0 1066.2,969.3 1069.4,969.6 1072.7,969.9 1075.9,970.3 1079.1,970.7 1082.4,971.0 1085.6,971.4 1088.8,971.8 1092.0,972.3 1095.3,972.7 1098.5,973.2 1101.7,973.6 1104.9,974.1 1108.2,974.6 1111.4,975.0 1114.6,975.5 1117.9,976.0 1121.1,976.5 1124.3,977.1 1127.5,977.6 1130.8,978.1 1134.0,978.6 1137.2,979.1 1140.4,979.7 1143.7,980.2 1146.9,980.7 1150.1,981.2 1153.3,981.8 1156.6,982.3 1159.8,982.8 1163.0,983.3 1166.3,983.8 1169.5,984.3 1172.7,984.8 1175.9,985.3 1179.2,985.8 1182.4,986.3 1185.6,986.8 1188.8,987.2 1192.1,987.7 1195.3,988.1 1198.5,988.6 1201.8,989.0 1205.0,989.4 1208.2,989.9 1211.4,990.3 1214.7,990.7 1217.9,991.0 1221.1,991.4 1224.3,991.8 1227.6,992.1 1230.8,992.5 1234.0,992.8 1237.3,993.2 1240.5,993.5 1243.7,993.8 1246.9,994.1 1250.2,994.4 1253.4,994.6 1256.6,994.9 1259.8,995.2 1263.1,995.4 1266.3,995.7 1269.5,995.9 1272.7,996.1 1276.0,996.3 1279.2,996.5 1282.4,996.7 1285.7,996.9 1288.9,997.1 1292.1,997.3 1295.3,997.4 1298.6,997.6 1301.8,997.7 1305.0,997.9 1308.2,998.0 1311.5,998.1 1314.7,998.3 1317.9,998.4 1321.2,998.5 1324.4,998.6 1327.6,998.7 1330.8,998.8 1334.1,998.9 1337.3,998.9 1340.5,999.0 1343.7,999.1 1347.0,999.2 1350.2,999.2 1353.4,999.3 1356.7,999.4 1359.9,999.4 1363.1,999.5 1366.3,999.5 1369.6,999.6 1372.8,999.6 1376.0,999.6 1379.2,999.7 1382.5,999.7 1385.7,999.8 1388.9,999.8 1392.1,999.8 1395.4,999.8 1398.6,999.9 1401.8,999.9 1405.1,999.9 1408.3,999.9 1411.5,1000.0 1414.7,1000.0 1418.0,1000.0 1421.2,1000.0 1424.4,1000.0 1427.6,1000.0 1430.9,1000.0 1434.1,1000.1 1437.3,1000.1 1440.6,1000.1 1443.8,1000.1 1447.0,1000.1 1450.2,1000.1 1453.5,1000.1 1456.7,1000.1 1459.9,1000.1 1463.1,1000.1 1466.4,1000.1 1469.6,1000.1 1472.8,1000.1 1476.0,1000.1 1479.3,1000.1 1482.5,1000.2 1485.7,1000.2 1489.0,1000.2 1492.2,1000.2 1495.4,1000.2 1498.6,1000.2 1501.9,1000.2 1505.1,1000.2 1508.3,1000.2 1511.5,1000.2 1514.8,1000.2 1518.0,1000.2"/>
<polyline points="227.2,998.4 230.4,998.4 233.7,998.4 236.9,998.4 240.1,998.4 243.3,998.4 246.6,998.4 249.8,998.4 253.0,998.4 256.2,998.4 259.5,998.4 262.7,998.3 265.9,998.3 269.2,998.3 272.4,998.3 275.6,998.3 278.8,998.3 282.1,998.3 285.3,998.3 288.5,998.3 291.7,998.2 295.0,998.2 298.2,998.2 301.4,998.2 304.6,998.2 307.9,998.1 311.1,998.1 314.3,998.1 317.6,998.0 320.8,998.0 324.0,997.9 327.2,997.9 330.5,997.8 333.7,997.8 336.9,997.7 340.1,997.6 343.4,997.6 346.6,997.5 349.8,997.4 353.1,997.3 356.3,997.2 359.5,997.0 362.7,996.9 366.0,996.8 369.2,996.6 372.4,996.4 375.6,996.2 378.9,996.0 382.1,995.8 385.3,995.5 388.5,995.3 391.8,995.0 395.0,994.6 398.2,994.3 401.5,993.9 404.7,993.5 407.9,993.1 411.1,992.7 414.4,992.2 417.6,991.6 420.8,991.1 424.0,990.5 427.3,989.9 430.5,989.2 433.7,988.5 437.0,987.7 440.2,986.9 443.4,986.0 446.6,985.1 449.9,984.2 453.1,983.2 456.3,982.1 459.5,981.0 462.8,979.9 466.0,978.6 469.2,977.4 472.5,976.1 475.7,974.7 478.9,973.3 482.1,971.8 485.4,970.2 488.6,968.6 491.8,967.0 495.0,965.3 498.3,963.6 501.5,961.8 504.7,960.0 507.9,958.1 511.2,956.2 514.4,954.3 517.6,952.3 520.9,950.3 524.1,948.3 527.3,946.2 530.5,944.2 533.8,942.1 537.0,940.0 540.2,938.0 543.4,935.9 546.7,933.8 549.9,931.8 553.1,929.7 556.4,927.7 559.6,925.8 562.8,923.8 566.0,922.0 569.3,920.1 572.5,918.3 575.7,916.6 578.9,915.0 582.2,913.4 585.4,911.9 588.6,910.5 591.9,909.2 595.1,907.9 598.3,906.8 601.5,905.8 604.8,904.9 608.0,904.1 611.2,903.4 614.4,902.8 617.7,902.3 620.9,902.0 624.1,901.8 627.3,901.7 630.6,901.7 633.8,901.8 637.0,901.9 640.3,902.2 643.5,902.5 646.7,903.0 649.9,903.5 653.2,904.0 656.4,904.7 659.6,905.4 662.8,906.2 666.1,907.1 669.3,908.0 672.5,909.0 675.8,910.1 679.0,911.2 682.2,912.4 685.4,913.6 688.7,914.8 691.9,916.2 695.1,917.5 698.3,918.9 701.6,920.3 704.8,921.8 708.0,923.3 711.2,924.8 714.5,926.3 717.7,927.8 720.9,929.4 724.2,930.9 727.4,932.5 730.6,934.0 733.8,935.6 737.1,937.1 740.3,938.7 743.5,940.2 746.7,941.7 750.0,943.2 753.2,944.7 756.4,946.1 759.7,947.5 762.9,948.9 766.1,950.3 769.3,951.6 772.6,952.9 775.8,954.2 779.0,955.4 782.2,956.6 785.5,957.7 788.7,958.8 791.9,959.9 795.2,960.9 798.4,961.9 801.6,962.8 804.8,963.7 808.1,964.5 811.3,965.3 814.5,966.1 817.7,966.8 821.0,967.4 824.2,968.1 827.4,968.6 830.6,969.2 833.9,969.7 837.1,970.1 840.3,970.6 843.6,970.9 846.8,971.3 850.0,971.6 853.2,971.8 856.5,972.1 859.7,972.3 862.9,972.4 866.1,972.6 869.4,972.7 872.6,972.7 875.8,972.8 879.1,972.8 882.3,972.8 885.5,972.8 888.7,972.7 892.0,972.7 895.2,972.6 898.4,972.5 901.6,972.4 904.9,972.3 908.1,972.1 911.3,972.0 914.6,971.8 917.8,971.6 921.0,971.4 924.2,971.2 927.5,971.1 930.7,970.9 933.9,970.7 937.1,970.5 940.4,970.2 943.6,970.0 946.8,969.8 950.0,969.6 953.3,969.4 956.5,969.2 959.7,969.1 963.0,968.9 966.2,968.7 969.4,968.5 972.6,968.4 975.9,968.2 979.1,968.1 982.3,967.9 985.5,967.8 988.8,967.7 992.0,967.6 995.2,967.5 998.5,967.4 1001.7,967.4 1004.9,967.3 1008.1,967.3 1011.4,967.2 1014.6,967.2 1017.8,967.2 1021.0,967.2 1024.3,967.3 1027.5,967.3 1030.7,967.4 1034.0,967.5 1037.2,967.6 1040.4,967.7 1043.6,967.9 1046.9,968.1 1050.1,968.3 1053.3,968.5 1056.5,968.7 1059.8,968.9 1063.0,969.2 1066.2,969.5 1069.4,969.8 1072.7,970.1 1075.9,970.4 1079.1,970.8 1082.4,971.1 1085.6,971.5 1088.8,971.9 1092.0,972.3 1095.3,972.7 1098.5,973.1 1101.7,973.6 1104.9,974.0 1108.2,974.4 1111.4,974.9 1114.6,975.4 1117.9,975.8 1121.1,976.3 1124.3,976.8 1127.5,977.3 1130.8,977.8 1134.0,978.2 1137.2,978.7 1140.4,979.2 1143.7,979.7 1146.9,980.2 1150.1,980.7 1153.3,981.2 1156.6,981.7 1159.8,982.2 1163.0,982.6 1166.3,983.1 1169.5,983.6 1172.7,984.1 1175.9,984.5 1179.2,985.0 1182.4,985.4 1185.6,985.9 1188.8,986.3 1192.1,986.8 1195.3,987.2 1198.5,987.6 1201.8,988.0 1205.0,988.4 1208.2,988.8 1211.4,989.2 1214.7,989.6 1217.9,989.9 1221.1,990.3 1224.3,990.6 1227.6,991.0 1230.8,991.3 1234.0,991.6 1237.3,991.9 1240.5,992.2 1243.7,992.5 1246.9,992.8 1250.2,993.0 1253.4,993.3 1256.6,993.6 1259.8,993.8 1263.1,994.0 1266.3,994.3 1269.5,994.5 1272.7,994.7 1276.0,994.9 1279.2,995.1 1282.4,995.3 1285.7,995.4 1288.9,995.6 1292.1,995.8 1295.3,995.9 1298.6,996.1 1301.8,996.2 1305.0,996.3 1308.2,996.5 1311.5,996.6 1314.7,996.7 1317.9,996.8 1321.2,996.9 1324.4,997.0 1327.6,997.1 1330.8,997.2 1334.1,997.3 1337.3,997.4 1340.5,997.4 1343.7,997.5 1347.0,997.6 1350.2,997.6 1353.4,997.7 1356.7,997.8 1359.9,997.8 1363.1,997.9 1366.3,997.9 1369.6,997.9 1372.8,998.0 1376.0,998.0 1379.2,998.1 1382.5,998.1 1385.7,998.1 1388.9,998.2 1392.1,998.2 1395.4,998.2 1398.6,998.2 1401.8,998.3 1405.1,998.3 1408.3,998.3 1411.5,998.3 1414.7,998.3 1418.0,998.3 1421.2,998.4 1424.4,998.4 1427.6,998.4 1430.9,998.4 1434.1,998.4 1437.3,998.4 1440.6,998.4 1443.8,998.4 1447.0,998.4 1450.2,998.4 1453.5,998.5 1456.7,998.5 1459.9,998.5 1463.1,998.5 1466.4,998.5 1469.6,998.5 1472.8,998.5 1476.0,998.5 1479.3,998.5 1482.5,998.5 1485.7,998.5 1489.0,998.5 1492.2,998.5 1495.4,998.5 1498.6,998.5 1501.9,998.5 1505.1,998.5 1508.3,998.5 1511.5,998.5 1514.8,998.5 1518.0,998.5"/>
<polyline points="227.2,998.2 230.4,998.2 233.7,998.2 236.9,998.2 240.1,998.2 243.3,998.2 246.6,998.2 249.8,998.1 253.0,998.1 256.2,998.1 259.5,998.1 262.7,998.1 265.9,998.1 269.2,998.1 272.4,998.1 275.6,998.1 278.8,998.1 282.1,998.1 285.3,998.1 288.5,998.0 291.7,998.0 295.0,998.0 298.2,998.0 301.4,998.0 304.6,997.9 307.9,997.9 311.1,997.9 314.3,997.8 317.6,997.8 320.8,997.8 324.0,997.7 327.2,997.7 330.5,997.6 333.7,997.6 336.9,997.5 340.1,997.4 343.4,997.4 346.6,997.3 349.8,997.2 353.1,997.1 356.3,997.0 359.5,996.8 362.7,996.7 366.0,996.6 369.2,996.4 372.4,996.2 375.6,996.0 378.9,995.8 382.1,995.6 385.3,995.3 388.5,995.1 391.8,994.8 395.0,994.5 398.2,994.1 401.5,993.8 404.7,993.4 407.9,993.0 411.1,992.5 414.4,992.0 417.6,991.5 420.8,991.0 424.0,990.4 427.3,989.7 430.5,989.1 433.7,988.4 437.0,987.6 440.2,986.8 443.4,986.0 446.6,985.1 449.9,984.1 453.1,983.1 456.3,982.1 459.5,981.0 462.8,979.9 466.0,978.7 469.2,977.4 472.5,976.1 475.7,974.8 478.9,973.4 482.1,971.9 485.4,970.4 488.6,968.8 491.8,967.2 495.0,965.6 498.3,963.8 501.5,962.1 504.7,960.3 507.9,958.5 511.2,956.6 514.4,954.7 517.6,952.7 520.9,950.8 524.1,948.8 527.3,946.7 530.5,944.7 533.8,942.7 537.0,940.6 540.2,938.6 543.4,936.5 546.7,934.5 549.9,932.5 553.1,930.5 556.4,928.5 559.6,926.6 562.8,924.7 566.0,922.8 569.3,921.0 572.5,919.2 575.7,917.6 578.9,915.9 582.2,914.4 585.4,912.9 588.6,911.5 591.9,910.2 595.1,909.0 598.3,907.9 601.5,906.9 604.8,906.0 608.0,905.2 611.2,904.5 614.4,903.9 617.7,903.5 620.9,903.1 624.1,902.9 627.3,902.8 630.6,902.8 633.8,902.9 637.0,903.1 640.3,903.3 643.5,903.7 646.7,904.1 649.9,904.6 653.2,905.1 656.4,905.8 659.6,906.5 662.8,907.3 666.1,908.1 669.3,909.0 672.5,910.0 675.8,911.1 679.0,912.2 682.2,913.3 685.4,914.5 688.7,915.8 691.9,917.1 695.1,918.4 698.3,919.8 701.6,921.2 704.8,922.6 708.0,924.1 711.2,925.6 714.5,927.0 717.7,928.6 720.9,930.1 724.2,931.6 727.4,933.1 730.6,934.7 733.8,936.2 737.1,937.7 740.3,939.3 743.5,940.8 746.7,942.3 750.0,943.7 753.2,945.2 756.4,946.6 759.7,948.0 762.9,949.4 766.1,950.7 769.3,952.0 772.6,953.3 775.8,954.6 779.0,955.8 782.2,957.0 785.5,958.1 788.7,959.2 791.9,960.2 795.2,961.2 798.4,962.2 801.6,963.1 804.8,964.0 808.1,964.8 811.3,965.6 814.5,966.4 817.7,967.1 821.0,967.8 824.2,968.4 827.4,969.0 830.6,969.5 833.9,970.0 837.1,970.5 840.3,970.9 843.6,971.3 846.8,971.6 850.0,971.9 853.2,972.2 856.5,972.4 859.7,972.6 862.9,972.8 866.1,972.9 869.4,973.1 872.6,973.1 875.8,973.2 879.1,973.2 882.3,973.2 885.5,973.2 888.7,973.2 892.0,973.1 895.2,973.1 898.4,973.0 901.6,972.9 904.9,972.8 908.1,972.6 911.3,972.5 914.6,972.3 917.8,972.2 921.0,972.0 924.2,971.8 927.5,971.6 930.7,971.4 933.9,971.3 937.1,971.1 940.4,970.9 943.6,970.7 946.8,970.5 950.0,970.3 953.3,970.1 956.5,969.9 959.7,969.7 963.0,969.6 966.2,969.4 969.4,969.2 972.6,969.1 975.9,968.9 979.1,968.8 982.3,968.7 985.5,968.5 988.8,968.4 992.0,968.3 995.2,968.2 998.5,968.2 1001.7,968.1 1004.9,968.0 1008.1,968.0 1011.4,968.0 1014.6,968.0 1017.8,968.0 1021.0,968.0 1024.3,968.0 1027.5,968.1 1030.7,968.1 1034.0,968.2 1037.2,968.3 1040.4,968.5 1043.6,968.6 1046.9,968.8 1050.1,969.0 1053.3,969.2 1056.5,969.4 1059.8,969.6 1063.0,969.9 1066.2,970.2 1069.4,970.5 1072.7,970.8 1075.9,971.1 1079.1,971.4 1082.4,971.8 1085.6,972.1 1088.8,972.5 1092.0,972.9 1095.3,973.3 1098.5,973.7 1101.7,974.1 1104.9,974.5 1108.2,974.9 1111.4,975.4 1114.6,975.8 1117.9,976.3 1121.1,976.7 1124.3,977.2 1127.5,977.7 1130.8,978.1 1134.0,978.6 1137.2,979.1 1140.4,979.6 1143.7,980.1 1146.9,980.5 1150.1,981.0 1153.3,981.5 1156.6,982.0 1159.8,982.4 1163.0,982.9 1166.3,983.4 1169.5,983.8 1172.7,984.3 1175.9,984.7 1179.2,985.2 1182.4,985.6 1185.6,986.0 1188.8,986.5 1192.1,986.9 1195.3,987.3 1198.5,987.7 1201.8,988.1 1205.0,988.5 1208.2,988.9 1211.4,989.2 1214.7,989.6 1217.9,989.9 1221.1,990.3 1224.3,990.6 1227.6,990.9 1230.8,991.3 1234.0,991.6 1237.3,991.9 1240.5,992.2 1243.7,992.4 1246.9,992.7 1250.2,993.0 1253.4,993.2 1256.6,993.5 1259.8,993.7 1263.1,993.9 1266.3,994.2 1269.5,994.4 1272.7,994.6 1276.0,994.8 1279.2,994.9 1282.4,995.1 1285.7,995.3 1288.9,995.5 1292.1,995.6 1295.3,995.8 1298.6,995.9 1301.8,996.0 1305.0,996.2 1308.2,996.3 1311.5,996.4 1314.7,996.5 1317.9,996.6 1321.2,996.7 1324.4,996.8 1327.6,996.9 1330.8,997.0 1334.1,997.1 1337.3,997.2 1340.5,997.2 1343.7,997.3 1347.0,997.4 1350.2,997.4 1353.4,997.5 1356.7,997.5 1359.9,997.6 1363.1,997.6 1366.3,997.7 1369.6,997.7 1372.8,997.8 1376.0,997.8 1379.2,997.8 1382.5,997.9 1385.7,997.9 1388.9,997.9 1392.1,998.0 1395.4,998.0 1398.6,998.0 1401.8,998.0 1405.1,998.1 1408.3,998.1 1411.5,998.1 1414.7,998.1 1418.0,998.1 1421.2,998.1 1424.4,998.2 1427.6,998.2 1430.9,998.2 1434.1,998.2 1437.3,998.2 1440.6,998.2 1443.8,998.2 1447.0,998.2 1450.2,998.2 1453.5,998.2 1456.7,998.2 1459.9,998.2 1463.1,998.3 1466.4,998.3 1469.6,998.3 1472.8,998.3 1476.0,998.3 1479.3,998.3 1482.5,998.3 1485.7,998.3 1489.0,998.3 1492.2,998.3 1495.4,998.3 1498.6,998.3 1501.9,998.3 1505.1,998.3 1508.3,998.3 1511.5,998.3 1514.8,998.3 1518.0,998.3"/>
<polyline points="227.2,1000.0 230.4,1000.0 233.7,1000.0 236.9,1000.0 240.1,1000.0 243.3,1000.0 246.6,1000.0 249.8,1000.0 253.0,1000.0 256.2,1000.0 259.5,999.9 262.7,999.9 265.9,999.9 269.2,999.9 272.4,999.9 275.6,999.9 278.8,999.9 282.1,999.9 285.3,999.9 288.5,999.9 291.7,999.8 295.0,999.8 298.2,999.8 301.4,999.8 304.6,999.8 307.9,999.7 311.1,999.7 314.3,999.7 317.6,999.6 320.8,999.6 324.0,999.5 327.2,999.5 330.5,999.4 333.7,999.4 336.9,999.3 340.1,999.2 343.4,999.2 346.6,999.1 349.8,999.0 353.1,998.9 356.3,998.8 359.5,998.6 362.7,998.5 366.0,998.4 369.2,998.2 372.4,998.0 375.6,997.8 378.9,997.6 382.1,997.4 385.3,997.1 388.5,996.9 391.8,996.6 395.0,996.3 398.2,995.9 401.5,995.5 404.7,995.2 407.9,994.7 411.1,994.3 414.4,993.8 417.6,993.3 420.8,992.7 424.0,992.1 427.3,991.5 430.5,990.8 433.7,990.1 437.0,989.3 440.2,988.5 443.4,987.7 446.6,986.8 449.9,985.8 453.1,984.8 456.3,983.8 459.5,982.7 462.8,981.5 466.0,980.3 469.2,979.1 472.5,977.8 475.7,976.4 478.9,975.0 482.1,973.5 485.4,972.0 488.6,970.4 491.8,968.8 495.0,967.1 498.3,965.4 501.5,963.6 504.7,961.8 507.9,960.0 511.2,958.1 514.4,956.2 517.6,954.2 520.9,952.2 524.1,950.2 527.3,948.2 530.5,946.1 533.8,944.1 537.0,942.0 540.2,940.0 543.4,937.9 546.7,935.9 549.9,933.8 553.1,931.8 556.4,929.8 559.6,927.9 562.8,925.9 566.0,924.1 569.3,922.3 572.5,920.5 575.7,918.8 578.9,917.2 582.2,915.6 585.4,914.1 588.6,912.7 591.9,911.4 595.1,910.2 598.3,909.1 601.5,908.0 604.8,907.1 608.0,906.3 611.2,905.6 614.4,905.1 617.7,904.6 620.9,904.3 624.1,904.1 627.3,904.0 630.6,904.0 633.8,904.0 637.0,904.2 640.3,904.5 643.5,904.8 646.7,905.2 649.9,905.7 653.2,906.3 656.4,906.9 659.6,907.6 662.8,908.4 666.1,909.3 669.3,910.2 672.5,911.2 675.8,912.2 679.0,913.3 682.2,914.5 685.4,915.7 688.7,917.0 691.9,918.3 695.1,919.6 698.3,921.0 701.6,922.4 704.8,923.8 708.0,925.3 711.2,926.8 714.5,928.3 717.7,929.8 720.9,931.3 724.2,932.8 727.4,934.4 730.6,935.9 733.8,937.5 737.1,939.0 740.3,940.5 743.5,942.0 746.7,943.5 750.0,945.0 753.2,946.4 756.4,947.9 759.7,949.3 762.9,950.6 766.1,952.0 769.3,953.3 772.6,954.6 775.8,955.8 779.0,957.0 782.2,958.2 785.5,959.3 788.7,960.4 791.9,961.5 795.2,962.5 798.4,963.5 801.6,964.4 804.8,965.3 808.1,966.1 811.3,966.9 814.5,967.6 817.7,968.3 821.0,969.0 824.2,969.6 827.4,970.2 830.6,970.7 833.9,971.2 837.1,971.7 840.3,972.1 843.6,972.4 846.8,972.8 850.0,973.1 853.2,973.3 856.5,973.6 859.7,973.8 862.9,973.9 866.1,974.1 869.4,974.2 872.6,974.2 875.8,974.3 879.1,974.3 882.3,974.3 885.5,974.3 888.7,974.2 892.0,974.2 895.2,974.1 898.4,974.0 901.6,973.9 904.9,973.8 908.1,973.6 911.3,973.5 914.6,973.3 917.8,973.1 921.0,972.9 924.2,972.8 927.5,972.6 930.7,972.4 933.9,972.2 937.1,972.0 940.4,971.8 943.6,971.6 946.8,971.3 950.0,971.1 953.3,970.9 956.5,970.8 959.7,970.6 963.0,970.4 966.2,970.2 969.4,970.0 972.6,969.9 975.9,969.7 979.1,969.6 982.3,969.4 985.5,969.3 988.8,969.2 992.0,969.1 995.2,969.0 998.5,968.9 1001.7,968.9 1004.9,968.8 1008.1,968.8 1011.4,968.7 1014.6,968.7 1017.8,968.7 1021.0,968.7 1024.3,968.8 1027.5,968.8 1030.7,968.9 1034.0,969.0 1037.2,969.1 1040.4,969.2 1043.6,969.4 1046.9,969.6 1050.1,969.8 1053.3,970.0 1056.5,970.2 1059.8,970.4 1063.0,970.7 1066.2,971.0 1069.4,971.3 1072.7,971.6 1075.9,971.9 1079.1,972.3 1082.4,972.6 1085.6,973.0 1088.8,973.4 1092.0,973.8 1095.3,974.2 1098.5,974.6 1101.7,975.0 1104.9,975.5 1108.2,975.9 1111.4,976.4 1114.6,976.8 1117.9,977.3 1121.1,977.8 1124.3,978.3 1127.5,978.7 1130.8,979.2 1134.0,979.7 1137.2,980.2 1140.4,980.7 1143.7,981.2 1146.9,981.7 1150.1,982.2 1153.3,982.7 1156.6,983.2 1159.8,983.7 1163.0,984.1 1166.3,984.6 1169.5,985.1 1172.7,985.6 1175.9,986.0 1179.2,986.5 1182.4,986.9 1185.6,987.4 1188.8,987.8 1192.1,988.3 1195.3,988.7 1198.5,989.1 1201.8,989.5 1205.0,989.9 1208.2,990.3 1211.4,990.7 1214.7,991.1 1217.9,991.4 1221.1,991.8 1224.3,992.1 1227.6,992.5 1230.8,992.8 1234.0,993.1 1237.3,993.4 1240.5,993.7 1243.7,994.0 1246.9,994.3 1250.2,994.6 1253.4,994.9 1256.6,995.1 1259.8,995.3 1263.1,995.6 1266.3,995.8 1269.5,996.0 1272.7,996.2 1276.0,996.4 1279.2,996.6 1282.4,996.8 1285.7,997.0 1288.9,997.2 1292.1,997.3 1295.3,997.5 1298.6,997.6 1301.8,997.8 1305.0,997.9 1308.2,998.0 1311.5,998.2 1314.7,998.3 1317.9,998.4 1321.2,998.5 1324.4,998.6 1327.6,998.7 1330.8,998.8 1334.1,998.9 1337.3,998.9 1340.5,999.0 1343.7,999.1 1347.0,999.2 1350.2,999.2 1353.4,999.3 1356.7,999.3 1359.9,999.4 1363.1,999.4 1366.3,999.5 1369.6,999.5 1372.8,999.6 1376.0,999.6 1379.2,999.6 1382.5,999.7 1385.7,999.7 1388.9,999.7 1392.1,999.8 1395.4,999.8 1398.6,999.8 1401.8,999.8 1405.1,999.9 1408.3,999.9 1411.5,999.9 1414.7,999.9 1418.0,999.9 1421.2,1000.0 1424.4,1000.0 1427.6,1000.0 1430.9,1000.0 1434.1,1000.0 1437.3,1000.0 1440.6,1000.0 1443.8,1000.0 1447.0,1000.0 1450.2,1000.0 1453.5,1000.1 1456.7,1000.1 1459.9,1000.1 1463.1,1000.1 1466.4,1000.1 1469.6,1000.1 1472.8,1000.1 1476.0,1000.1 1479.3,1000.1 1482.5,1000.1 1485.7,1000.1 1489.0,1000.1 1492.2,1000.1 1495.4,1000.1 1498.6,1000.1 1501.9,1000.1 1505.1,1000.1 1508.3,1000.1 1511.5,1000.1 1514.8,1000.1 1518.0,1000.1"/>
<polyline points="227.2,1001.3 230.4,1001.3 233.7,1001.3 236.9,1001.3 240.1,1001.3 243.3,1001.3 246.6,1001.3 249.8,1001.3 253.0,1001.3 256.2,1001.3 259.5,1001.3 262.7,1001.3 265.9,1001.2 269.2,1001.2 272.4,1001.2 275.6,1001.2 278.8,1001.2 282.1,1001.2 285.3,1001.2 288.5,1001.2 291.7,1001.1 295.0,1001.1 298.2,1001.1 301.4,1001.1 304.6,1001.1 307.9,1001.0 311.1,1001.0 314.3,1001.0 317.6,1000.9 320.8,1000.9 324.0,1000.9 327.2,1000.8 330.5,1000.7 333.7,1000.7 336.9,1000.6 340.1,1000.6 343.4,1000.5 346.6,1000.4 349.8,1000.3 353.1,1000.2 356.3,1000.1 359.5,999.9 362.7,999.8 366.0,999.7 369.2,999.5 372.4,999.3 375.6,999.1 378.9,998.9 382.1,998.7 385.3,998.4 388.5,998.1 391.8,997.9 395.0,997.5 398.2,997.2 401.5,996.8 404.7,996.4 407.9,996.0 411.1,995.5 414.4,995.1 417.6,994.5 420.8,994.0 424.0,993.4 427.3,992.7 430.5,992.1 433.7,991.3 437.0,990.6 440.2,989.8 443.4,988.9 446.6,988.0 449.9,987.1 453.1,986.1 456.3,985.0 459.5,983.9 462.8,982.7 466.0,981.5 469.2,980.3 472.5,978.9 475.7,977.6 478.9,976.1 482.1,974.7 485.4,973.1 488.6,971.5 491.8,969.9 495.0,968.2 498.3,966.5 501.5,964.7 504.7,962.9 507.9,961.0 511.2,959.1 514.4,957.2 517.6,955.2 520.9,953.2 524.1,951.2 527.3,949.2 530.5,947.1 533.8,945.1 537.0,943.0 540.2,940.9 543.4,938.8 546.7,936.8 549.9,934.7 553.1,932.7 556.4,930.7 559.6,928.8 562.8,926.8 566.0,924.9 569.3,923.1 572.5,921.3 575.7,919.6 578.9,918.0 582.2,916.4 585.4,914.9 588.6,913.5 591.9,912.2 595.1,911.0 598.3,909.8 601.5,908.8 604.8,907.9 608.0,907.1 611.2,906.4 614.4,905.8 617.7,905.4 620.9,905.0 624.1,904.8 627.3,904.7 630.6,904.7 633.8,904.8 637.0,905.0 640.3,905.2 643.5,905.5 646.7,906.0 649.9,906.5 653.2,907.0 656.4,907.7 659.6,908.4 662.8,909.2 666.1,910.0 669.3,911.0 672.5,912.0 675.8,913.0 679.0,914.1 682.2,915.3 685.4,916.5 688.7,917.8 691.9,919.1 695.1,920.4 698.3,921.8 701.6,923.2 704.8,924.6 708.0,926.1 711.2,927.6 714.5,929.1 717.7,930.6 720.9,932.2 724.2,933.7 727.4,935.2 730.6,936.8 733.8,938.3 737.1,939.9 740.3,941.4 743.5,942.9 746.7,944.4 750.0,945.9 753.2,947.3 756.4,948.8 759.7,950.2 762.9,951.6 766.1,952.9 769.3,954.2 772.6,955.5 775.8,956.8 779.0,958.0 782.2,959.1 785.5,960.3 788.7,961.4 791.9,962.4 795.2,963.4 798.4,964.4 801.6,965.3 804.8,966.2 808.1,967.0 811.3,967.8 814.5,968.6 817.7,969.3 821.0,969.9 824.2,970.5 827.4,971.1 830.6,971.7 833.9,972.1 837.1,972.6 840.3,973.0 843.6,973.4 846.8,973.7 850.0,974.0 853.2,974.3 856.5,974.5 859.7,974.7 862.9,974.8 866.1,975.0 869.4,975.1 872.6,975.2 875.8,975.2 879.1,975.2 882.3,975.2 885.5,975.2 888.7,975.1 892.0,975.1 895.2,975.0 898.4,974.9 901.6,974.8 904.9,974.6 908.1,974.5 911.3,974.3 914.6,974.2 917.8,974.0 921.0,973.8 924.2,973.6 927.5,973.4 930.7,973.2 933.9,973.0 937.1,972.8 940.4,972.6 943.6,972.4 946.8,972.2 950.0,972.0 953.3,971.7 956.5,971.6 959.7,971.4 963.0,971.2 966.2,971.0 969.4,970.8 972.6,970.7 975.9,970.5 979.1,970.3 982.3,970.2 985.5,970.1 988.8,970.0 992.0,969.9 995.2,969.8 998.5,969.7 1001.7,969.6 1004.9,969.6 1008.1,969.5 1011.4,969.5 1014.6,969.5 1017.8,969.5 1021.0,969.5 1024.3,969.5 1027.5,969.6 1030.7,969.7 1034.0,969.8 1037.2,969.9 1040.4,970.0 1043.6,970.2 1046.9,970.3 1050.1,970.5 1053.3,970.7 1056.5,971.0 1059.8,971.2 1063.0,971.5 1066.2,971.8 1069.4,972.1 1072.7,972.4 1075.9,972.7 1079.1,973.1 1082.4,973.4 1085.6,973.8 1088.8,974.2 1092.0,974.6 1095.3,975.0 1098.5,975.4 1101.7,975.9 1104.9,976.3 1108.2,976.8 1111.4,977.3 1114.6,977.7 1117.9,978.2 1121.1,978.7 1124.3,979.2 1127.5,979.7 1130.8,980.2 1134.0,980.7 1137.2,981.2 1140.4,981.7 1143.7,982.2 1146.9,982.7 1150.1,983.2 1153.3,983.7 1156.6,984.2 1159.8,984.7 1163.0,985.2 1166.3,985.6 1169.5,986.1 1172.7,986.6 1175.9,987.1 1179.2,987.5 1182.4,988.0 1185.6,988.5 1188.8,988.9 1192.1,989.4 1195.3,989.8 1198.5,990.2 1201.8,990.6 1205.0,991.0 1208.2,991.4 1211.4,991.8 1214.7,992.2 1217.9,992.6 1221.1,992.9 1224.3,993.3 1227.6,993.6 1230.8,994.0 1234.0,994.3 1237.3,994.6 1240.5,994.9 1243.7,995.2 1246.9,995.5 1250.2,995.8 1253.4,996.1 1256.6,996.3 1259.8,996.6 1263.1,996.8 1266.3,997.0 1269.5,997.3 1272.7,997.5 1276.0,997.7 1279.2,997.9 1282.4,998.1 1285.7,998.2 1288.9,998.4 1292.1,998.6 1295.3,998.7 1298.6,998.9 1301.8,999.0 1305.0,999.2 1308.2,999.3 1311.5,999.4 1314.7,999.6 1317.9,999.7 1321.2,999.8 1324.4,999.9 1327.6,1000.0 1330.8,1000.1 1334.1,1000.1 1337.3,1000.2 1340.5,1000.3 1343.7,1000.4 1347.0,1000.4 1350.2,1000.5 1353.4,1000.6 1356.7,1000.6 1359.9,1000.7 1363.1,1000.7 1366.3,1000.8 1369.6,1000.8 1372.8,1000.9 1376.0,1000.9 1379.2,1000.9 1382.5,1001.0 1385.7,1001.0 1388.9,1001.0 1392.1,1001.1 1395.4,1001.1 1398.6,1001.1 1401.8,1001.2 1405.1,1001.2 1408.3,1001.2 1411.5,1001.2 1414.7,1001.2 1418.0,1001.2 1421.2,1001.3 1424.4,1001.3 1427.6,1001.3 1430.9,1001.3 1434.1,1001.3 1437.3,1001.3 1440.6,1001.3 1443.8,1001.3 1447.0,1001.3 1450.2,1001.4 1453.5,1001.4 1456.7,1001.4 1459.9,1001.4 1463.1,1001.4 1466.4,1001.4 1469.6,1001.4 1472.8,1001.4 1476.0,1001.4 1479.3,1001.4 1482.5,1001.4 1485.7,1001.4 1489.0,1001.4 1492.2,1001.4 1495.4,1001.4 1498.6,1001.4 1501.9,1001.4 1505.1,1001.4 1508.3,1001.4 1511.5,1001.4 1514.8,1001.4 1518.0,1001.4"/>
</g>
<rect x="227.9" y="67.8" width="1290.6" height="941.3" fill="none" stroke="#000" stroke-width="5.2"/>
<path d="M225.3,1008.95 H1521" stroke="#000" stroke-width="5.3" fill="none"/>
<path d="M549.9,1009 V990 M872.6,1009 V990 M1195.3,1009 V990 M228,821.1 H247 M228,632.8 H247 M228,444.5 H247 M228,256.2 H247" stroke="#000" stroke-width="5" fill="none"/>
<text transform="translate(227.2,1083.5) scale(1,1.035)" font-size="68" text-anchor="middle">600</text>
<text transform="translate(549.9,1083.5) scale(1,1.035)" font-size="68" text-anchor="middle">650</text>
<text transform="translate(872.6,1083.5) scale(1,1.035)" font-size="68" text-anchor="middle">700</text>
<text transform="translate(1195.3,1083.5) scale(1,1.035)" font-size="68" text-anchor="middle">750</text>
<text transform="translate(1518.0,1083.5) scale(1,1.035)" font-size="68" text-anchor="middle">800</text>
<text transform="translate(206.5,841.6) scale(1,1.035)" font-size="68" text-anchor="end">5</text>
<text transform="translate(206.5,653.3) scale(1,1.035)" font-size="68" text-anchor="end">10</text>
<text transform="translate(206.5,465.0) scale(1,1.035)" font-size="68" text-anchor="end">15</text>
<text transform="translate(206.5,276.7) scale(1,1.035)" font-size="68" text-anchor="end">20</text>
<text transform="translate(206.5,88.4) scale(1,1.035)" font-size="68" text-anchor="end">25</text>
<text transform="translate(874,1186.4) scale(1,1.026)" font-size="77" text-anchor="middle">Wavelength (nm)</text>
<text transform="translate(78,525) rotate(-90) scale(1,1.04)" font-size="76.5" text-anchor="middle">Intensity</text>
<path d="M428.4,286.6 V466" stroke="#000" stroke-width="2.4" fill="none"/>
<path d="M421.8,461.5 L435.2,461.5 L428.4,489.5 Z" fill="#000"/>
<rect x="867.6" y="89.9" width="625.4" height="455.3" fill="#fff" stroke="#000" stroke-width="3.3"/>
<path d="M866,545.6 H1494.5" stroke="#3a3a3a" stroke-width="4" fill="none"/>
<path d="M888.0,544 V537.5 M968.6,544 V537.5 M1049.2,544 V537.5 M1129.8,544 V537.5 M1210.4,544 V537.5 M1291.0,544 V537.5 M1371.6,544 V537.5 M1452.2,544 V537.5 M869,461.8 H876 M869,380.2 H876 M869,296.2 H876 M869,213.7 H876 M869,129.5 H876" stroke="#000" stroke-width="2.2" fill="none"/>
<text transform="translate(888.0,583.5) scale(1,1.04)" font-size="33.5" text-anchor="middle">0</text>
<text transform="translate(968.6,583.5) scale(1,1.04)" font-size="33.5" text-anchor="middle">4</text>
<text transform="translate(1049.2,583.5) scale(1,1.04)" font-size="33.5" text-anchor="middle">8</text>
<text transform="translate(1129.8,583.5) scale(1,1.04)" font-size="33.5" text-anchor="middle">12</text>
<text transform="translate(1210.4,583.5) scale(1,1.04)" font-size="33.5" text-anchor="middle">16</text>
<text transform="translate(1291.0,583.5) scale(1,1.04)" font-size="33.5" text-anchor="middle">20</text>
<text transform="translate(1371.6,583.5) scale(1,1.04)" font-size="33.5" text-anchor="middle">24</text>
<text transform="translate(1452.2,583.5) scale(1,1.04)" font-size="33.5" text-anchor="middle">28</text>
<text transform="translate(858,472.2) scale(1,1.08)" font-size="32" text-anchor="end">5</text>
<text transform="translate(858,390.2) scale(1,1.08)" font-size="32" text-anchor="end">10</text>
<text transform="translate(858,305.6) scale(1,1.08)" font-size="32" text-anchor="end">15</text>
<text transform="translate(858,224.3) scale(1,1.08)" font-size="32" text-anchor="end">20</text>
<text transform="translate(858,142.1) scale(1,1.08)" font-size="32" text-anchor="end">25</text>
<text transform="translate(1179.5,632) scale(1,1.02)" font-size="37.4" text-anchor="middle">Pt complexes, eq.</text>
<text transform="translate(800,403.8) rotate(-90) scale(1,1.04)" font-size="37">Intensity<tspan font-size="25.2" dx="1" dy="10">650nm</tspan></text>
<g clip-path="url(#iclip)">
<path d="M872,121 L1018.5,533" stroke="#1a1a1a" stroke-width="1.7" stroke-dasharray="11 12" fill="none"/>
<path d="M981,514 H1493" stroke="#000" stroke-width="2.3" stroke-dasharray="11 11.6" fill="none"/>
<path d="M1011.7,510 V520" stroke="#000" stroke-width="2" fill="none"/>
<circle cx="1017.3" cy="533.2" r="1.8" fill="#000"/>
<circle cx="888.0" cy="155.9" r="7.9" fill="#000"/>
<circle cx="908.1" cy="226.9" r="7.9" fill="#000"/>
<circle cx="928.3" cy="287.5" r="7.9" fill="#000"/>
<circle cx="948.5" cy="353" r="7.9" fill="#000"/>
<circle cx="968.6" cy="385.2" r="7.9" fill="#000"/>
<circle cx="988.8" cy="416.8" r="7.9" fill="#000"/>
<circle cx="1008.9" cy="441.9" r="7.9" fill="#000"/>
<circle cx="1029.0" cy="459.5" r="7.9" fill="#000"/>
<circle cx="1049.2" cy="473.1" r="7.9" fill="#000"/>
<circle cx="1069.3" cy="482.1" r="7.9" fill="#000"/>
<circle cx="1089.5" cy="493.4" r="7.9" fill="#000"/>
<circle cx="1109.7" cy="500" r="7.9" fill="#000"/>
<circle cx="1129.8" cy="502.8" r="7.9" fill="#000"/>
<circle cx="1150.0" cy="509.1" r="7.9" fill="#000"/>
<circle cx="1170.1" cy="511.9" r="7.9" fill="#000"/>
<circle cx="1190.2" cy="511.9" r="7.9" fill="#000"/>
<circle cx="1210.4" cy="513.3" r="7.9" fill="#000"/>
<circle cx="1230.5" cy="514.1" r="7.9" fill="#000"/>
<circle cx="1250.7" cy="514.1" r="7.9" fill="#000"/>
<circle cx="1331.3" cy="514.6" r="7.9" fill="#000"/>
<circle cx="1411.9" cy="514.6" r="7.9" fill="#000"/>
<circle cx="1492.5" cy="514.6" r="7.9" fill="#000"/>
</g>
</svg></body></html>
